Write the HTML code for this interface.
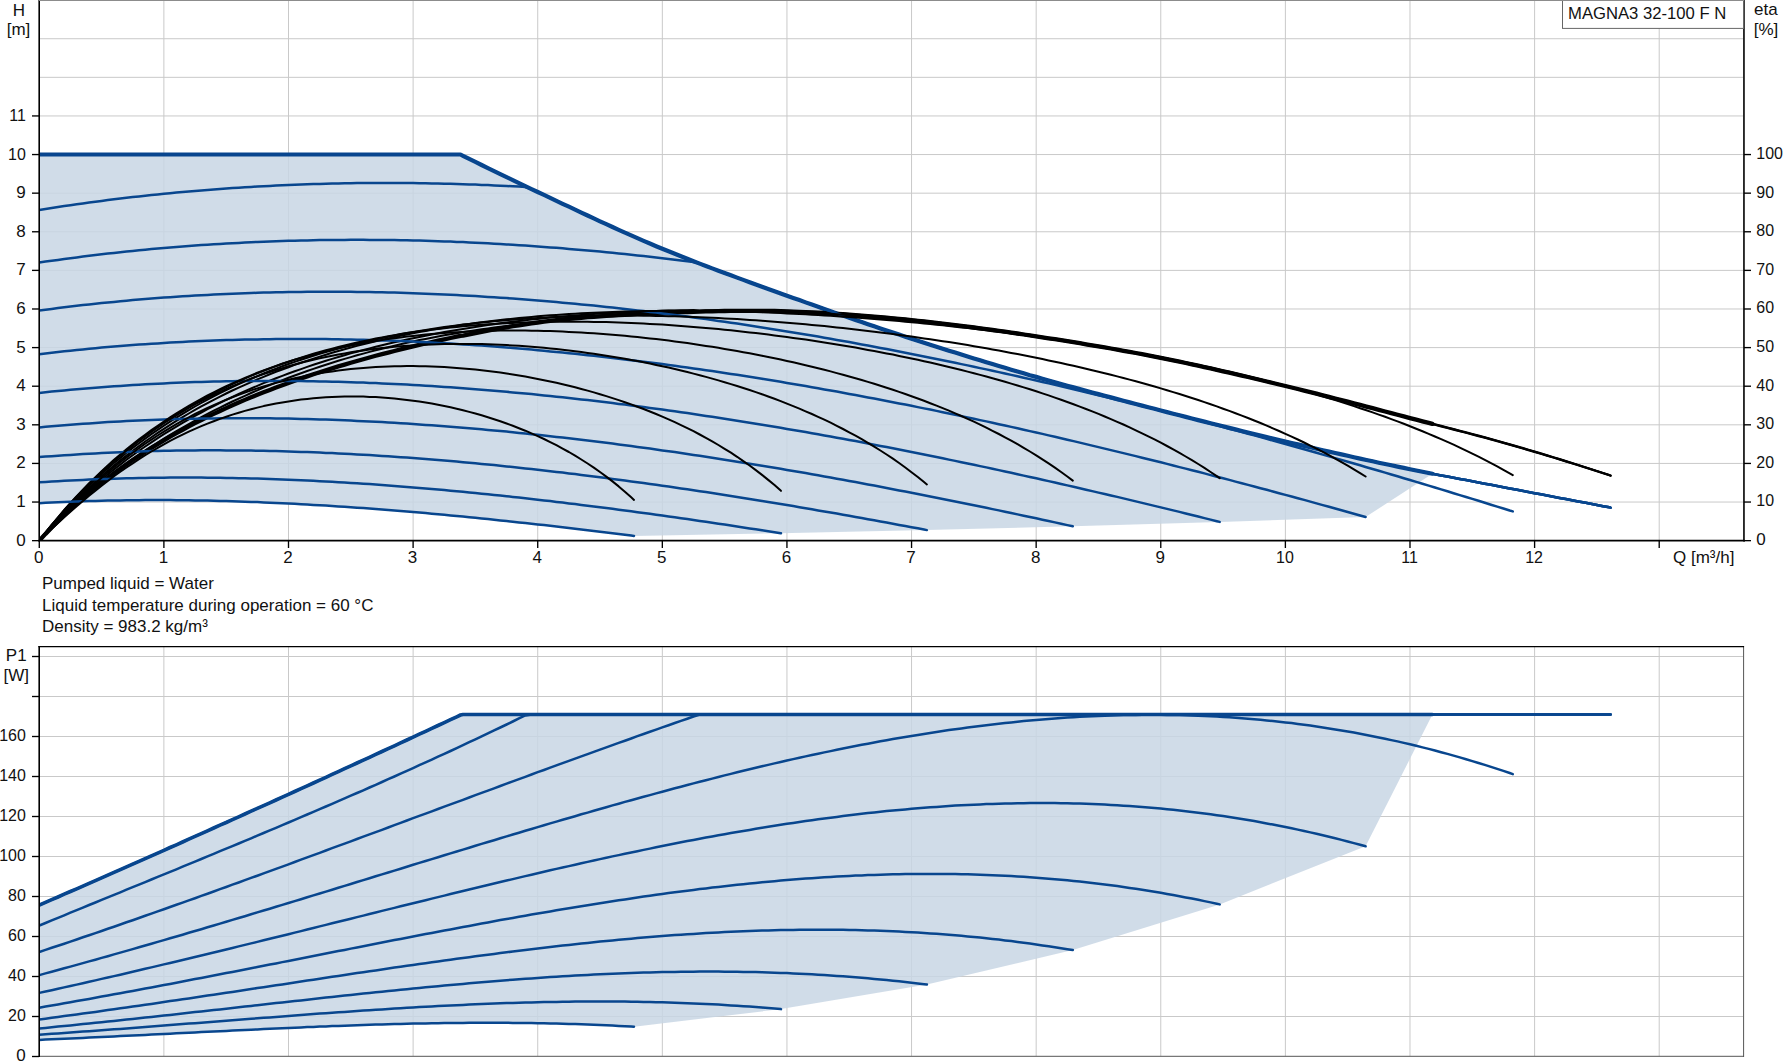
<!DOCTYPE html><html><head><meta charset="utf-8"><title>MAGNA3 32-100 F N</title>
<style>html,body{margin:0;padding:0;background:#fff}body{width:1783px;height:1061px;overflow:hidden;font-family:"Liberation Sans",sans-serif}svg{display:block}text{font-family:"Liberation Sans",sans-serif;font-size:17px;fill:#111}</style></head><body>
<svg width="1783" height="1061" viewBox="0 0 1783 1061">
<rect width="1783" height="1061" fill="#fff"/>
<defs><clipPath id="c1"><rect x="39.2" y="0" width="1706" height="541"/></clipPath><clipPath id="c2"><rect x="39.2" y="646" width="1706" height="415"/></clipPath></defs>
<g stroke="#c9c9c9" stroke-width="1" fill="none">
<line x1="163.89" y1="0" x2="163.89" y2="540"/>
<line x1="288.50" y1="0" x2="288.50" y2="540"/>
<line x1="413.11" y1="0" x2="413.11" y2="540"/>
<line x1="537.72" y1="0" x2="537.72" y2="540"/>
<line x1="662.33" y1="0" x2="662.33" y2="540"/>
<line x1="786.94" y1="0" x2="786.94" y2="540"/>
<line x1="911.55" y1="0" x2="911.55" y2="540"/>
<line x1="1036.16" y1="0" x2="1036.16" y2="540"/>
<line x1="1160.77" y1="0" x2="1160.77" y2="540"/>
<line x1="1285.38" y1="0" x2="1285.38" y2="540"/>
<line x1="1409.99" y1="0" x2="1409.99" y2="540"/>
<line x1="1534.60" y1="0" x2="1534.60" y2="540"/>
<line x1="1659.21" y1="0" x2="1659.21" y2="540"/>
<line x1="40" y1="502.04" x2="1743" y2="502.04"/>
<line x1="40" y1="463.43" x2="1743" y2="463.43"/>
<line x1="40" y1="424.82" x2="1743" y2="424.82"/>
<line x1="40" y1="386.21" x2="1743" y2="386.21"/>
<line x1="40" y1="347.60" x2="1743" y2="347.60"/>
<line x1="40" y1="308.99" x2="1743" y2="308.99"/>
<line x1="40" y1="270.38" x2="1743" y2="270.38"/>
<line x1="40" y1="231.77" x2="1743" y2="231.77"/>
<line x1="40" y1="193.16" x2="1743" y2="193.16"/>
<line x1="40" y1="154.55" x2="1743" y2="154.55"/>
<line x1="40" y1="115.94" x2="1743" y2="115.94"/>
<line x1="40" y1="77.33" x2="1743" y2="77.33"/>
<line x1="40" y1="38.72" x2="1743" y2="38.72"/>
</g>
<path d="M39.3,503.2 L45.5,502.8 L51.7,502.5 L58.0,502.2 L64.2,502.0 L70.4,501.7 L76.7,501.5 L82.9,501.3 L89.1,501.1 L95.4,500.9 L101.6,500.7 L107.8,500.6 L114.0,500.5 L120.3,500.4 L126.5,500.3 L132.7,500.2 L139.0,500.2 L145.2,500.1 L151.4,500.1 L157.7,500.1 L163.9,500.1 L170.1,500.1 L176.4,500.2 L182.6,500.2 L188.8,500.3 L195.0,500.4 L201.3,500.5 L207.5,500.6 L213.7,500.8 L220.0,500.9 L226.2,501.1 L232.4,501.3 L238.7,501.5 L244.9,501.7 L251.1,501.9 L257.3,502.1 L263.6,502.4 L269.8,502.7 L276.0,502.9 L282.3,503.2 L288.5,503.5 L294.7,503.8 L301.0,504.2 L307.2,504.5 L313.4,504.9 L319.7,505.2 L325.9,505.6 L332.1,506.0 L338.3,506.4 L344.6,506.8 L350.8,507.2 L357.0,507.7 L363.3,508.1 L369.5,508.6 L375.7,509.0 L382.0,509.5 L388.2,510.0 L394.4,510.5 L400.6,511.0 L406.9,511.5 L413.1,512.0 L419.3,512.6 L425.6,513.1 L431.8,513.7 L438.0,514.2 L444.3,514.8 L450.5,515.4 L456.7,516.0 L463.0,516.6 L469.2,517.2 L475.4,517.8 L481.6,518.4 L487.9,519.1 L494.1,519.7 L500.3,520.4 L506.6,521.0 L512.8,521.7 L519.0,522.4 L525.3,523.0 L531.5,523.7 L537.7,524.4 L544.0,525.1 L550.2,525.8 L556.4,526.5 L562.6,527.2 L568.9,528.0 L575.1,528.7 L581.3,529.4 L587.6,530.2 L593.8,530.9 L600.0,531.7 L606.3,532.4 L612.5,533.2 L618.7,534.0 L624.9,534.8 L631.2,535.5 L634.0,535.9 L781.0,533.2 L926.9,530.1 L1072.8,526.3 L1219.7,521.9 L1365.6,517.0 L1432.4,473.7 L1428.7,473.0 L1422.5,471.7 L1416.2,470.5 L1410.0,469.2 L1403.8,467.9 L1397.5,466.6 L1391.3,465.3 L1385.1,464.0 L1378.8,462.7 L1372.6,461.3 L1366.4,460.0 L1360.1,458.6 L1353.9,457.2 L1347.7,455.8 L1341.5,454.4 L1335.2,453.0 L1329.0,451.6 L1322.8,450.2 L1316.5,448.7 L1310.3,447.3 L1304.1,445.9 L1297.8,444.4 L1291.6,443.0 L1285.4,441.5 L1279.1,440.0 L1272.9,438.5 L1266.7,437.1 L1260.5,435.6 L1254.2,434.0 L1248.0,432.5 L1241.8,431.0 L1235.5,429.4 L1229.3,427.9 L1223.1,426.3 L1216.8,424.8 L1210.6,423.2 L1204.4,421.6 L1198.2,420.1 L1191.9,418.5 L1185.7,416.9 L1179.5,415.3 L1173.2,413.7 L1167.0,412.1 L1160.8,410.5 L1154.5,408.8 L1148.3,407.2 L1142.1,405.6 L1135.8,404.0 L1129.6,402.4 L1123.4,400.7 L1117.2,399.1 L1110.9,397.4 L1104.7,395.8 L1098.5,394.1 L1092.2,392.5 L1086.0,390.8 L1079.8,389.1 L1073.5,387.4 L1067.3,385.7 L1061.1,384.0 L1054.9,382.2 L1048.6,380.5 L1042.4,378.7 L1036.2,376.9 L1029.9,375.2 L1023.7,373.3 L1017.5,371.5 L1011.2,369.7 L1005.0,367.8 L998.8,366.0 L992.5,364.1 L986.3,362.2 L980.1,360.3 L973.9,358.4 L967.6,356.5 L961.4,354.6 L955.2,352.6 L948.9,350.7 L942.7,348.7 L936.5,346.7 L930.2,344.7 L924.0,342.7 L917.8,340.7 L911.5,338.7 L905.3,336.7 L899.1,334.6 L892.9,332.6 L886.6,330.5 L880.4,328.4 L874.2,326.3 L867.9,324.2 L861.7,322.0 L855.5,319.9 L849.2,317.7 L843.0,315.6 L836.8,313.4 L830.6,311.2 L824.3,309.0 L818.1,306.8 L811.9,304.6 L805.6,302.4 L799.4,300.1 L793.2,297.9 L786.9,295.7 L780.7,293.4 L774.5,291.2 L768.2,288.9 L762.0,286.7 L755.8,284.4 L749.6,282.2 L743.3,279.9 L737.1,277.6 L730.9,275.3 L724.6,273.0 L718.4,270.7 L712.2,268.4 L705.9,266.0 L699.7,263.6 L693.5,261.2 L687.3,258.8 L681.0,256.3 L674.8,253.8 L668.6,251.3 L662.3,248.8 L656.1,246.2 L649.9,243.5 L643.6,240.9 L637.4,238.2 L631.2,235.4 L624.9,232.6 L618.7,229.8 L612.5,227.0 L606.3,224.2 L600.0,221.3 L593.8,218.4 L587.6,215.5 L581.3,212.6 L575.1,209.6 L568.9,206.7 L562.6,203.8 L556.4,200.8 L550.2,197.9 L544.0,194.9 L537.7,192.0 L531.5,189.1 L525.3,186.1 L519.0,183.1 L512.8,180.1 L506.6,177.1 L500.3,174.1 L494.1,171.1 L487.9,168.1 L481.6,165.0 L475.4,161.9 L469.2,158.9 L463.0,155.8 L460.5,154.5 L456.7,154.5 L450.5,154.5 L444.3,154.5 L438.0,154.5 L431.8,154.5 L425.6,154.5 L419.3,154.5 L413.1,154.5 L406.9,154.5 L400.6,154.5 L394.4,154.5 L388.2,154.5 L382.0,154.5 L375.7,154.5 L369.5,154.5 L363.3,154.5 L357.0,154.5 L350.8,154.5 L344.6,154.5 L338.3,154.5 L332.1,154.5 L325.9,154.5 L319.7,154.5 L313.4,154.5 L307.2,154.5 L301.0,154.5 L294.7,154.5 L288.5,154.5 L282.3,154.5 L276.0,154.5 L269.8,154.5 L263.6,154.5 L257.3,154.5 L251.1,154.5 L244.9,154.5 L238.7,154.5 L232.4,154.5 L226.2,154.5 L220.0,154.5 L213.7,154.5 L207.5,154.5 L201.3,154.5 L195.0,154.5 L188.8,154.5 L182.6,154.5 L176.4,154.5 L170.1,154.5 L163.9,154.5 L157.7,154.5 L151.4,154.5 L145.2,154.5 L139.0,154.5 L132.7,154.5 L126.5,154.5 L120.3,154.5 L114.0,154.5 L107.8,154.5 L101.6,154.5 L95.4,154.5 L89.1,154.5 L82.9,154.5 L76.7,154.5 L70.4,154.5 L64.2,154.5 L58.0,154.5 L51.7,154.5 L45.5,154.5 L39.3,154.5Z" fill="#c8d6e4" fill-opacity="0.85" stroke="none"/>
<g clip-path="url(#c1)" fill="none" stroke-linecap="round" stroke-linejoin="round">
<path d="M39.3,154.5 L45.5,154.5 L51.7,154.5 L58.0,154.5 L64.2,154.5 L70.4,154.5 L76.7,154.5 L82.9,154.5 L89.1,154.5 L95.4,154.5 L101.6,154.5 L107.8,154.5 L114.0,154.5 L120.3,154.5 L126.5,154.5 L132.7,154.5 L139.0,154.5 L145.2,154.5 L151.4,154.5 L157.7,154.5 L163.9,154.5 L170.1,154.5 L176.4,154.5 L182.6,154.5 L188.8,154.5 L195.0,154.5 L201.3,154.5 L207.5,154.5 L213.7,154.5 L220.0,154.5 L226.2,154.5 L232.4,154.5 L238.7,154.5 L244.9,154.5 L251.1,154.5 L257.3,154.5 L263.6,154.5 L269.8,154.5 L276.0,154.5 L282.3,154.5 L288.5,154.5 L294.7,154.5 L301.0,154.5 L307.2,154.5 L313.4,154.5 L319.7,154.5 L325.9,154.5 L332.1,154.5 L338.3,154.5 L344.6,154.5 L350.8,154.5 L357.0,154.5 L363.3,154.5 L369.5,154.5 L375.7,154.5 L382.0,154.5 L388.2,154.5 L394.4,154.5 L400.6,154.5 L406.9,154.5 L413.1,154.5 L419.3,154.5 L425.6,154.5 L431.8,154.5 L438.0,154.5 L444.3,154.5 L450.5,154.5 L456.7,154.5 L460.5,154.5 L463.0,155.8 L469.2,158.9 L475.4,161.9 L481.6,165.0 L487.9,168.1 L494.1,171.1 L500.3,174.1 L506.6,177.1 L512.8,180.1 L519.0,183.1 L525.3,186.1 L531.5,189.1 L537.7,192.0 L544.0,194.9 L550.2,197.9 L556.4,200.8 L562.6,203.8 L568.9,206.7 L575.1,209.6 L581.3,212.6 L587.6,215.5 L593.8,218.4 L600.0,221.3 L606.3,224.2 L612.5,227.0 L618.7,229.8 L624.9,232.6 L631.2,235.4 L637.4,238.2 L643.6,240.9 L649.9,243.5 L656.1,246.2 L662.3,248.8 L668.6,251.3 L674.8,253.8 L681.0,256.3 L687.3,258.8 L693.5,261.2 L699.7,263.6 L705.9,266.0 L712.2,268.4 L718.4,270.7 L724.6,273.0 L730.9,275.3 L737.1,277.6 L743.3,279.9 L749.6,282.2 L755.8,284.4 L762.0,286.7 L768.2,288.9 L774.5,291.2 L780.7,293.4 L786.9,295.7 L793.2,297.9 L799.4,300.1 L805.6,302.4 L811.9,304.6 L818.1,306.8 L824.3,309.0 L830.6,311.2 L836.8,313.4 L843.0,315.6 L849.2,317.7 L855.5,319.9 L861.7,322.0 L867.9,324.2 L874.2,326.3 L880.4,328.4 L886.6,330.5 L892.9,332.6 L899.1,334.6 L905.3,336.7 L911.5,338.7 L917.8,340.7 L924.0,342.7 L930.2,344.7 L936.5,346.7 L942.7,348.7 L948.9,350.7 L955.2,352.6 L961.4,354.6 L967.6,356.5 L973.9,358.4 L980.1,360.3 L986.3,362.2 L992.5,364.1 L998.8,366.0 L1005.0,367.8 L1011.2,369.7 L1017.5,371.5 L1023.7,373.3 L1029.9,375.2 L1036.2,376.9 L1042.4,378.7 L1048.6,380.5 L1054.9,382.2 L1061.1,384.0 L1067.3,385.7 L1073.5,387.4 L1079.8,389.1 L1086.0,390.8 L1092.2,392.5 L1098.5,394.1 L1104.7,395.8 L1110.9,397.4 L1117.2,399.1 L1123.4,400.7 L1129.6,402.4 L1135.8,404.0 L1142.1,405.6 L1148.3,407.2 L1154.5,408.8 L1160.8,410.5 L1167.0,412.1 L1173.2,413.7 L1179.5,415.3 L1185.7,416.9 L1191.9,418.5 L1198.2,420.1 L1204.4,421.6 L1210.6,423.2 L1216.8,424.8 L1223.1,426.3 L1229.3,427.9 L1235.5,429.4 L1241.8,431.0 L1248.0,432.5 L1254.2,434.0 L1260.5,435.6 L1266.7,437.1 L1272.9,438.5 L1279.1,440.0 L1285.4,441.5 L1291.6,443.0 L1297.8,444.4 L1304.1,445.9 L1310.3,447.3 L1316.5,448.7 L1322.8,450.2 L1329.0,451.6 L1335.2,453.0 L1341.5,454.4 L1347.7,455.8 L1353.9,457.2 L1360.1,458.6 L1366.4,460.0 L1372.6,461.3 L1378.8,462.7 L1385.1,464.0 L1391.3,465.3 L1397.5,466.6 L1403.8,467.9 L1410.0,469.2 L1416.2,470.5 L1422.5,471.7 L1428.7,473.0 L1432.4,473.7" stroke="#08468e" stroke-width="4.2"/>
<path d="M39.3,540.6 L45.5,533.9 L51.7,527.5 L58.0,521.2 L64.2,515.2 L70.4,509.3 L76.7,503.7 L82.9,498.2 L89.1,492.9 L95.4,487.7 L101.6,482.8 L107.8,477.9 L114.0,473.3 L120.3,468.7 L126.5,464.3 L132.7,460.0 L139.0,455.9 L145.2,451.8 L151.4,447.9 L157.7,444.1 L163.9,440.4 L170.1,436.7 L176.4,433.2 L182.6,429.8 L188.8,426.4 L195.0,423.2 L201.3,420.0 L207.5,416.9 L213.7,413.9 L220.0,411.0 L226.2,408.1 L232.4,405.3 L238.7,402.6 L244.9,399.9 L251.1,397.3 L257.3,394.8 L263.6,392.3 L269.8,389.9 L276.0,387.5 L282.3,385.2 L288.5,382.9 L294.7,380.7 L301.0,378.5 L307.2,376.4 L313.4,374.3 L319.7,372.3 L325.9,370.3 L332.1,368.4 L338.3,366.4 L344.6,364.6 L350.8,362.8 L357.0,361.0 L363.3,359.2 L369.5,357.5 L375.7,355.8 L382.0,354.2 L388.2,352.6 L394.4,351.0 L400.6,349.4 L406.9,347.9 L413.1,346.4 L419.3,344.9 L425.6,343.5 L431.8,342.1 L438.0,340.7 L444.3,339.3 L450.5,338.0 L456.7,336.7 L460.5,335.9 L463.0,335.7 L469.2,334.4 L475.4,333.1 L481.6,331.8 L487.9,330.6 L494.1,329.5 L500.3,328.3 L506.6,327.3 L512.8,326.2 L519.0,325.3 L525.3,324.3 L531.5,323.4 L537.7,322.5 L544.0,321.7 L550.2,320.9 L556.4,320.2 L562.6,319.5 L568.9,318.9 L575.1,318.3 L581.3,317.8 L587.6,317.2 L593.8,316.8 L600.0,316.3 L606.3,315.9 L612.5,315.5 L618.7,315.1 L624.9,314.8 L631.2,314.5 L637.4,314.1 L643.6,313.8 L649.9,313.5 L656.1,313.3 L662.3,313.0 L668.6,312.7 L674.8,312.5 L681.0,312.2 L687.3,312.0 L693.5,311.8 L699.7,311.6 L705.9,311.4 L712.2,311.3 L718.4,311.1 L724.6,311.0 L730.9,310.9 L737.1,310.9 L743.3,310.8 L749.6,310.8 L755.8,310.8 L762.0,310.9 L768.2,310.9 L774.5,311.0 L780.7,311.2 L786.9,311.3 L793.2,311.6 L799.4,311.8 L805.6,312.1 L811.9,312.3 L818.1,312.7 L824.3,313.0 L830.6,313.4 L836.8,313.8 L843.0,314.2 L849.2,314.6 L855.5,315.1 L861.7,315.6 L867.9,316.1 L874.2,316.6 L880.4,317.2 L886.6,317.7 L892.9,318.3 L899.1,318.9 L905.3,319.5 L911.5,320.1 L917.8,320.8 L924.0,321.5 L930.2,322.1 L936.5,322.8 L942.7,323.6 L948.9,324.3 L955.2,325.1 L961.4,325.8 L967.6,326.6 L973.9,327.5 L980.1,328.3 L986.3,329.1 L992.5,330.0 L998.8,330.8 L1005.0,331.7 L1011.2,332.6 L1017.5,333.5 L1023.7,334.5 L1029.9,335.4 L1036.2,336.3 L1042.4,337.3 L1048.6,338.3 L1054.9,339.2 L1061.1,340.2 L1067.3,341.2 L1073.5,342.2 L1079.8,343.2 L1086.0,344.3 L1092.2,345.3 L1098.5,346.4 L1104.7,347.4 L1110.9,348.5 L1117.2,349.6 L1123.4,350.8 L1129.6,351.9 L1135.8,353.0 L1142.1,354.2 L1148.3,355.4 L1154.5,356.6 L1160.8,357.9 L1167.0,359.1 L1173.2,360.4 L1179.5,361.7 L1185.7,363.0 L1191.9,364.3 L1198.2,365.7 L1204.4,367.1 L1210.6,368.4 L1216.8,369.8 L1223.1,371.3 L1229.3,372.7 L1235.5,374.1 L1241.8,375.6 L1248.0,377.0 L1254.2,378.5 L1260.5,380.0 L1266.7,381.5 L1272.9,383.0 L1279.1,384.5 L1285.4,386.0 L1291.6,387.5 L1297.8,389.0 L1304.1,390.6 L1310.3,392.1 L1316.5,393.7 L1322.8,395.3 L1329.0,396.9 L1335.2,398.5 L1341.5,400.1 L1347.7,401.7 L1353.9,403.3 L1360.1,404.9 L1366.4,406.6 L1372.6,408.2 L1378.8,409.9 L1385.1,411.5 L1391.3,413.1 L1397.5,414.8 L1403.8,416.4 L1410.0,418.1 L1416.2,419.7 L1422.5,421.3 L1428.7,422.9 L1432.4,423.9" stroke="#000" stroke-width="4.3"/>
<path d="M39.3,154.5 L45.5,154.5 L51.7,154.5 L58.0,154.5 L64.2,154.5 L70.4,154.5 L76.7,154.5 L82.9,154.5 L89.1,154.5 L95.4,154.5 L101.6,154.5 L107.8,154.5 L114.0,154.5 L120.3,154.5 L126.5,154.5 L132.7,154.5 L139.0,154.5 L145.2,154.5 L151.4,154.5 L157.7,154.5 L163.9,154.5 L170.1,154.5 L176.4,154.5 L182.6,154.5 L188.8,154.5 L195.0,154.5 L201.3,154.5 L207.5,154.5 L213.7,154.5 L220.0,154.5 L226.2,154.5 L232.4,154.5 L238.7,154.5 L244.9,154.5 L251.1,154.5 L257.3,154.5 L263.6,154.5 L269.8,154.5 L276.0,154.5 L282.3,154.5 L288.5,154.5 L294.7,154.5 L301.0,154.5 L307.2,154.5 L313.4,154.5 L319.7,154.5 L325.9,154.5 L332.1,154.5 L338.3,154.5 L344.6,154.5 L350.8,154.5 L357.0,154.5 L363.3,154.5 L369.5,154.5 L375.7,154.5 L382.0,154.5 L388.2,154.5 L394.4,154.5 L400.6,154.5 L406.9,154.5 L413.1,154.5 L419.3,154.5 L425.6,154.5 L431.8,154.5 L438.0,154.5 L444.3,154.5 L450.5,154.5 L456.7,154.5 L460.5,154.5 L463.0,155.8 L469.2,158.9 L475.4,161.9 L481.6,165.0 L487.9,168.1 L494.1,171.1 L500.3,174.1 L506.6,177.1 L512.8,180.1 L519.0,183.1 L525.3,186.1 L531.5,189.1 L537.7,192.0 L544.0,194.9 L550.2,197.9 L556.4,200.8 L562.6,203.8 L568.9,206.7 L575.1,209.6 L581.3,212.6 L587.6,215.5 L593.8,218.4 L600.0,221.3 L606.3,224.2 L612.5,227.0 L618.7,229.8 L624.9,232.6 L631.2,235.4 L637.4,238.2 L643.6,240.9 L649.9,243.5 L656.1,246.2 L662.3,248.8 L668.6,251.3 L674.8,253.8 L681.0,256.3 L687.3,258.8 L693.5,261.2 L699.7,263.6 L705.9,266.0 L712.2,268.4 L718.4,270.7 L724.6,273.0 L730.9,275.3 L737.1,277.6 L743.3,279.9 L749.6,282.2 L755.8,284.4 L762.0,286.7 L768.2,288.9 L774.5,291.2 L780.7,293.4 L786.9,295.7 L793.2,297.9 L799.4,300.1 L805.6,302.4 L811.9,304.6 L818.1,306.8 L824.3,309.0 L830.6,311.2 L836.8,313.4 L843.0,315.6 L849.2,317.7 L855.5,319.9 L861.7,322.0 L867.9,324.2 L874.2,326.3 L880.4,328.4 L886.6,330.5 L892.9,332.6 L899.1,334.6 L905.3,336.7 L911.5,338.7 L917.8,340.7 L924.0,342.7 L930.2,344.7 L936.5,346.7 L942.7,348.7 L948.9,350.7 L955.2,352.6 L961.4,354.6 L967.6,356.5 L973.9,358.4 L980.1,360.3 L986.3,362.2 L992.5,364.1 L998.8,366.0 L1005.0,367.8 L1011.2,369.7 L1017.5,371.5 L1023.7,373.3 L1029.9,375.2 L1036.2,376.9 L1042.4,378.7 L1048.6,380.5 L1054.9,382.2 L1061.1,384.0 L1067.3,385.7 L1073.5,387.4 L1079.8,389.1 L1086.0,390.8 L1092.2,392.5 L1098.5,394.1 L1104.7,395.8 L1110.9,397.4 L1117.2,399.1 L1123.4,400.7 L1129.6,402.4 L1135.8,404.0 L1142.1,405.6 L1148.3,407.2 L1154.5,408.8 L1160.8,410.5 L1167.0,412.1 L1173.2,413.7 L1179.5,415.3 L1185.7,416.9 L1191.9,418.5 L1198.2,420.1 L1204.4,421.6 L1210.6,423.2 L1216.8,424.8 L1223.1,426.3 L1229.3,427.9 L1235.5,429.4 L1241.8,431.0 L1248.0,432.5 L1254.2,434.0 L1260.5,435.6 L1266.7,437.1 L1272.9,438.5 L1279.1,440.0 L1285.4,441.5 L1291.6,443.0 L1297.8,444.4 L1304.1,445.9 L1310.3,447.3 L1316.5,448.7 L1322.8,450.2 L1329.0,451.6 L1335.2,453.0 L1341.5,454.4 L1347.7,455.8 L1353.9,457.2 L1360.1,458.6 L1366.4,460.0 L1372.6,461.3 L1378.8,462.7 L1385.1,464.0 L1391.3,465.3 L1397.5,466.6 L1403.8,467.9 L1410.0,469.2 L1416.2,470.5 L1422.5,471.7 L1428.7,473.0 L1432.4,473.7 L1434.9,474.2 L1441.1,475.4 L1447.4,476.6 L1453.6,477.8 L1459.8,479.0 L1466.1,480.1 L1472.3,481.3 L1478.5,482.5 L1484.8,483.7 L1491.0,484.8 L1497.2,486.0 L1503.4,487.2 L1509.7,488.4 L1515.9,489.6 L1522.1,490.8 L1528.4,492.0 L1534.6,493.2 L1540.8,494.3 L1547.1,495.5 L1553.3,496.7 L1559.5,497.9 L1565.8,499.1 L1572.0,500.3 L1578.2,501.4 L1584.4,502.6 L1590.7,503.8 L1596.9,505.0 L1603.1,506.2 L1609.4,507.3 L1610.6,507.6" stroke="#08468e" stroke-width="2.5"/>
<path d="M39.3,540.6 L45.5,533.9 L51.7,527.5 L58.0,521.2 L64.2,515.2 L70.4,509.3 L76.7,503.7 L82.9,498.2 L89.1,492.9 L95.4,487.7 L101.6,482.8 L107.8,477.9 L114.0,473.3 L120.3,468.7 L126.5,464.3 L132.7,460.0 L139.0,455.9 L145.2,451.8 L151.4,447.9 L157.7,444.1 L163.9,440.4 L170.1,436.7 L176.4,433.2 L182.6,429.8 L188.8,426.4 L195.0,423.2 L201.3,420.0 L207.5,416.9 L213.7,413.9 L220.0,411.0 L226.2,408.1 L232.4,405.3 L238.7,402.6 L244.9,399.9 L251.1,397.3 L257.3,394.8 L263.6,392.3 L269.8,389.9 L276.0,387.5 L282.3,385.2 L288.5,382.9 L294.7,380.7 L301.0,378.5 L307.2,376.4 L313.4,374.3 L319.7,372.3 L325.9,370.3 L332.1,368.4 L338.3,366.4 L344.6,364.6 L350.8,362.8 L357.0,361.0 L363.3,359.2 L369.5,357.5 L375.7,355.8 L382.0,354.2 L388.2,352.6 L394.4,351.0 L400.6,349.4 L406.9,347.9 L413.1,346.4 L419.3,344.9 L425.6,343.5 L431.8,342.1 L438.0,340.7 L444.3,339.3 L450.5,338.0 L456.7,336.7 L460.5,335.9 L463.0,335.7 L469.2,334.4 L475.4,333.1 L481.6,331.8 L487.9,330.6 L494.1,329.5 L500.3,328.3 L506.6,327.3 L512.8,326.2 L519.0,325.3 L525.3,324.3 L531.5,323.4 L537.7,322.5 L544.0,321.7 L550.2,320.9 L556.4,320.2 L562.6,319.5 L568.9,318.9 L575.1,318.3 L581.3,317.8 L587.6,317.2 L593.8,316.8 L600.0,316.3 L606.3,315.9 L612.5,315.5 L618.7,315.1 L624.9,314.8 L631.2,314.5 L637.4,314.1 L643.6,313.8 L649.9,313.5 L656.1,313.3 L662.3,313.0 L668.6,312.7 L674.8,312.5 L681.0,312.2 L687.3,312.0 L693.5,311.8 L699.7,311.6 L705.9,311.4 L712.2,311.3 L718.4,311.1 L724.6,311.0 L730.9,310.9 L737.1,310.9 L743.3,310.8 L749.6,310.8 L755.8,310.8 L762.0,310.9 L768.2,310.9 L774.5,311.0 L780.7,311.2 L786.9,311.3 L793.2,311.6 L799.4,311.8 L805.6,312.1 L811.9,312.3 L818.1,312.7 L824.3,313.0 L830.6,313.4 L836.8,313.8 L843.0,314.2 L849.2,314.6 L855.5,315.1 L861.7,315.6 L867.9,316.1 L874.2,316.6 L880.4,317.2 L886.6,317.7 L892.9,318.3 L899.1,318.9 L905.3,319.5 L911.5,320.1 L917.8,320.8 L924.0,321.5 L930.2,322.1 L936.5,322.8 L942.7,323.6 L948.9,324.3 L955.2,325.1 L961.4,325.8 L967.6,326.6 L973.9,327.5 L980.1,328.3 L986.3,329.1 L992.5,330.0 L998.8,330.8 L1005.0,331.7 L1011.2,332.6 L1017.5,333.5 L1023.7,334.5 L1029.9,335.4 L1036.2,336.3 L1042.4,337.3 L1048.6,338.3 L1054.9,339.2 L1061.1,340.2 L1067.3,341.2 L1073.5,342.2 L1079.8,343.2 L1086.0,344.3 L1092.2,345.3 L1098.5,346.4 L1104.7,347.4 L1110.9,348.5 L1117.2,349.6 L1123.4,350.8 L1129.6,351.9 L1135.8,353.0 L1142.1,354.2 L1148.3,355.4 L1154.5,356.6 L1160.8,357.9 L1167.0,359.1 L1173.2,360.4 L1179.5,361.7 L1185.7,363.0 L1191.9,364.3 L1198.2,365.7 L1204.4,367.1 L1210.6,368.4 L1216.8,369.8 L1223.1,371.3 L1229.3,372.7 L1235.5,374.1 L1241.8,375.6 L1248.0,377.0 L1254.2,378.5 L1260.5,380.0 L1266.7,381.5 L1272.9,383.0 L1279.1,384.5 L1285.4,386.0 L1291.6,387.5 L1297.8,389.0 L1304.1,390.6 L1310.3,392.1 L1316.5,393.7 L1322.8,395.3 L1329.0,396.9 L1335.2,398.5 L1341.5,400.1 L1347.7,401.7 L1353.9,403.3 L1360.1,404.9 L1366.4,406.6 L1372.6,408.2 L1378.8,409.9 L1385.1,411.5 L1391.3,413.1 L1397.5,414.8 L1403.8,416.4 L1410.0,418.1 L1416.2,419.7 L1422.5,421.3 L1428.7,422.9 L1432.4,423.9 L1434.9,424.5 L1441.1,426.1 L1447.4,427.7 L1453.6,429.3 L1459.8,431.0 L1466.1,432.6 L1472.3,434.2 L1478.5,435.9 L1484.8,437.5 L1491.0,439.2 L1497.2,440.9 L1503.4,442.7 L1509.7,444.5 L1515.9,446.3 L1522.1,448.1 L1528.4,449.9 L1534.6,451.7 L1540.8,453.6 L1547.1,455.5 L1553.3,457.4 L1559.5,459.3 L1565.8,461.2 L1572.0,463.2 L1578.2,465.1 L1584.4,467.1 L1590.7,469.1 L1596.9,471.1 L1603.1,473.1 L1609.4,475.1 L1610.6,475.6" stroke="#000" stroke-width="2.0"/>
<path d="M39.3,209.9 L45.5,209.0 L51.7,208.0 L58.0,207.0 L64.2,206.1 L70.4,205.2 L76.7,204.3 L82.9,203.4 L89.1,202.6 L95.4,201.7 L101.6,200.9 L107.8,200.1 L114.0,199.3 L120.3,198.6 L126.5,197.8 L132.7,197.1 L139.0,196.4 L145.2,195.7 L151.4,195.1 L157.7,194.4 L163.9,193.8 L170.1,193.2 L176.4,192.6 L182.6,192.0 L188.8,191.4 L195.0,190.9 L201.3,190.4 L207.5,189.9 L213.7,189.4 L220.0,188.9 L226.2,188.5 L232.4,188.1 L238.7,187.7 L244.9,187.3 L251.1,186.9 L257.3,186.5 L263.6,186.2 L269.8,185.9 L276.0,185.6 L282.3,185.3 L288.5,185.0 L294.7,184.7 L301.0,184.5 L307.2,184.3 L313.4,184.1 L319.7,183.9 L325.9,183.7 L332.1,183.6 L338.3,183.4 L344.6,183.3 L350.8,183.2 L357.0,183.1 L363.3,183.1 L369.5,183.0 L375.7,183.0 L382.0,183.0 L388.2,183.0 L394.4,183.0 L400.6,183.0 L406.9,183.1 L413.1,183.1 L419.3,183.2 L425.6,183.3 L431.8,183.4 L438.0,183.5 L444.3,183.7 L450.5,183.8 L456.7,184.0 L463.0,184.2 L469.2,184.4 L475.4,184.6 L481.6,184.9 L487.9,185.1 L494.1,185.4 L500.3,185.7 L506.6,186.0 L512.8,186.3 L519.0,186.6 L525.3,187.0 L531.5,189.1 L537.7,192.0 L544.0,194.9 L550.2,197.9 L556.4,200.8 L562.6,203.8 L568.9,206.7 L575.1,209.6 L581.3,212.6 L587.6,215.5 L593.8,218.4 L600.0,221.3 L606.3,224.2 L612.5,227.0 L618.7,229.8 L624.9,232.6 L631.2,235.4 L637.4,238.2 L643.6,240.9 L649.9,243.5 L656.1,246.2 L662.3,248.8 L668.6,251.3 L674.8,253.8 L681.0,256.3 L687.3,258.8 L693.5,261.2 L699.7,263.6 L705.9,266.0 L712.2,268.4 L718.4,270.7 L724.6,273.0 L730.9,275.3 L737.1,277.6 L743.3,279.9 L749.6,282.2 L755.8,284.4 L762.0,286.7 L768.2,288.9 L774.5,291.2 L780.7,293.4 L786.9,295.7 L793.2,297.9 L799.4,300.1 L805.6,302.4 L811.9,304.6 L818.1,306.8 L824.3,309.0 L830.6,311.2 L836.8,313.4 L843.0,315.6 L849.2,317.7 L855.5,319.9 L861.7,322.0 L867.9,324.2 L874.2,326.3 L880.4,328.4 L886.6,330.5 L892.9,332.6 L899.1,334.6 L905.3,336.7 L911.5,338.7 L917.8,340.7 L924.0,342.7 L930.2,344.7 L936.5,346.7 L942.7,348.7 L948.9,350.7 L955.2,352.6 L961.4,354.6 L967.6,356.5 L973.9,358.4 L980.1,360.3 L986.3,362.2 L992.5,364.1 L998.8,366.0 L1005.0,367.8 L1011.2,369.7 L1017.5,371.5 L1023.7,373.3 L1029.9,375.2 L1036.2,376.9 L1042.4,378.7 L1048.6,380.5 L1054.9,382.2 L1061.1,384.0 L1067.3,385.7 L1073.5,387.4 L1079.8,389.1 L1086.0,390.8 L1092.2,392.5 L1098.5,394.1 L1104.7,395.8 L1110.9,397.4 L1117.2,399.1 L1123.4,400.7 L1129.6,402.4 L1135.8,404.0 L1142.1,405.6 L1148.3,407.2 L1154.5,408.8 L1160.8,410.5 L1167.0,412.1 L1173.2,413.7 L1179.5,415.3 L1185.7,416.9 L1191.9,418.5 L1198.2,420.1 L1204.4,421.6 L1210.6,423.2 L1216.8,424.8 L1223.1,426.3 L1229.3,427.9 L1235.5,429.4 L1241.8,431.0 L1248.0,432.5 L1254.2,434.0 L1260.5,435.6 L1266.7,437.1 L1272.9,438.5 L1279.1,440.0 L1285.4,441.5 L1291.6,443.0 L1297.8,444.4 L1304.1,445.9 L1310.3,447.3 L1316.5,448.7 L1322.8,450.2 L1329.0,451.6 L1335.2,453.0 L1341.5,454.4 L1347.7,455.8 L1353.9,457.2 L1360.1,458.6 L1366.4,460.0 L1372.6,461.3 L1378.8,462.7 L1385.1,464.0 L1391.3,465.3 L1397.5,466.6 L1403.8,467.9 L1410.0,469.2 L1416.2,470.5 L1422.5,471.7 L1428.7,473.0 L1434.9,474.2 L1441.1,475.4 L1447.4,476.6 L1453.6,477.8 L1459.8,479.0 L1466.1,480.1 L1472.3,481.3 L1478.5,482.5 L1484.8,483.7 L1491.0,484.8 L1497.2,486.0 L1503.4,487.2 L1509.7,488.4 L1515.9,489.6 L1522.1,490.8 L1528.4,492.0 L1534.6,493.2 L1540.8,494.3 L1547.1,495.5 L1553.3,496.7 L1559.5,497.9 L1565.8,499.1 L1572.0,500.3 L1578.2,501.4 L1584.4,502.6 L1590.7,503.8 L1596.9,505.0 L1603.1,506.2 L1609.4,507.3 L1610.6,507.6" stroke="#08468e" stroke-width="2.5"/>
<path d="M39.3,540.6 L45.5,534.0 L51.7,527.6 L58.0,521.3 L64.2,515.3 L70.4,509.4 L76.7,503.7 L82.9,498.2 L89.1,492.8 L95.4,487.6 L101.6,482.5 L107.8,477.6 L114.0,472.8 L120.3,468.1 L126.5,463.6 L132.7,459.1 L139.0,454.8 L145.2,450.6 L151.4,446.5 L157.7,442.5 L163.9,438.6 L170.1,434.8 L176.4,431.1 L182.6,427.5 L188.8,424.0 L195.0,420.5 L201.3,417.2 L207.5,413.9 L213.7,410.7 L220.0,407.6 L226.2,404.5 L232.4,401.5 L238.7,398.6 L244.9,395.8 L251.1,393.0 L257.3,390.3 L263.6,387.7 L269.8,385.1 L276.0,382.6 L282.3,380.2 L288.5,377.8 L294.7,375.5 L301.0,373.2 L307.2,371.0 L313.4,368.9 L319.7,366.8 L325.9,364.7 L332.1,362.8 L338.3,360.8 L344.6,358.9 L350.8,357.1 L357.0,355.3 L363.3,353.6 L369.5,351.9 L375.7,350.3 L382.0,348.7 L388.2,347.2 L394.4,345.7 L400.6,344.2 L406.9,342.8 L413.1,341.5 L419.3,340.1 L425.6,338.9 L431.8,337.7 L438.0,336.5 L444.3,335.3 L450.5,334.2 L456.7,333.2 L463.0,332.1 L469.2,331.2 L475.4,330.2 L481.6,329.3 L487.9,328.4 L494.1,327.6 L500.3,326.8 L506.6,326.1 L512.8,325.4 L519.0,324.7 L525.3,324.0 L531.5,323.1 L537.7,322.2 L544.0,321.4 L550.2,320.5 L556.4,319.8 L562.6,319.1 L568.9,318.4 L575.1,317.8 L581.3,317.2 L587.6,316.6 L593.8,316.1 L600.0,315.6 L606.3,315.2 L612.5,314.8 L618.7,314.4 L624.9,314.0 L631.2,313.7 L637.4,313.4 L643.6,313.1 L649.9,312.8 L656.1,312.5 L662.3,312.2 L668.6,312.0 L674.8,311.7 L681.0,311.5 L687.3,311.3 L693.5,311.1 L699.7,310.9 L705.9,310.7 L712.2,310.6 L718.4,310.4 L724.6,310.3 L730.9,310.2 L737.1,310.2 L743.3,310.1 L749.6,310.1 L755.8,310.1 L762.0,310.2 L768.2,310.2 L774.5,310.3 L780.7,310.5 L786.9,310.7 L793.2,310.9 L799.4,311.1 L805.6,311.4 L811.9,311.7 L818.1,312.0 L824.3,312.3 L830.6,312.7 L836.8,313.1 L843.0,313.5 L849.2,313.9 L855.5,314.4 L861.7,314.9 L867.9,315.4 L874.2,315.9 L880.4,316.5 L886.6,317.0 L892.9,317.6 L899.1,318.2 L905.3,318.8 L911.5,319.5 L917.8,320.1 L924.0,320.8 L930.2,321.5 L936.5,322.2 L942.7,322.9 L948.9,323.7 L955.2,324.4 L961.4,325.2 L967.6,326.0 L973.9,326.8 L980.1,327.6 L986.3,328.5 L992.5,329.3 L998.8,330.2 L1005.0,331.1 L1011.2,332.0 L1017.5,332.9 L1023.7,333.8 L1029.9,334.8 L1036.2,335.7 L1042.4,336.7 L1048.6,337.7 L1054.9,338.6 L1061.1,339.6 L1067.3,340.6 L1073.5,341.6 L1079.8,342.6 L1086.0,343.7 L1092.2,344.7 L1098.5,345.8 L1104.7,346.9 L1110.9,348.0 L1117.2,349.1 L1123.4,350.2 L1129.6,351.3 L1135.8,352.5 L1142.1,353.7 L1148.3,354.9 L1154.5,356.1 L1160.8,357.3 L1167.0,358.6 L1173.2,359.9 L1179.5,361.2 L1185.7,362.5 L1191.9,363.8 L1198.2,365.2 L1204.4,366.5 L1210.6,367.9 L1216.8,369.3 L1223.1,370.7 L1229.3,372.2 L1235.5,373.6 L1241.8,375.1 L1248.0,376.5 L1254.2,378.0 L1260.5,379.5 L1266.7,381.0 L1272.9,382.5 L1279.1,384.0 L1285.4,385.5 L1291.6,387.0 L1297.8,388.6 L1304.1,390.1 L1310.3,391.7 L1316.5,393.3 L1322.8,394.8 L1329.0,396.4 L1335.2,398.0 L1341.5,399.7 L1347.7,401.3 L1353.9,402.9 L1360.1,404.5 L1366.4,406.2 L1372.6,407.8 L1378.8,409.5 L1385.1,411.1 L1391.3,412.8 L1397.5,414.4 L1403.8,416.1 L1410.0,417.7 L1416.2,419.3 L1422.5,421.0 L1428.7,422.6 L1434.9,424.2 L1441.1,425.8 L1447.4,427.4 L1453.6,429.0 L1459.8,430.6 L1466.1,432.2 L1472.3,433.9 L1478.5,435.5 L1484.8,437.2 L1491.0,438.9 L1497.2,440.6 L1503.4,442.4 L1509.7,444.2 L1515.9,446.0 L1522.1,447.8 L1528.4,449.6 L1534.6,451.5 L1540.8,453.3 L1547.1,455.2 L1553.3,457.1 L1559.5,459.0 L1565.8,461.0 L1572.0,462.9 L1578.2,464.9 L1584.4,466.9 L1590.7,468.9 L1596.9,470.9 L1603.1,472.9 L1609.4,475.0 L1610.6,475.4" stroke="#000" stroke-width="2.0"/>
<path d="M39.3,262.5 L45.5,261.6 L51.7,260.7 L58.0,259.9 L64.2,259.0 L70.4,258.2 L76.7,257.4 L82.9,256.6 L89.1,255.8 L95.4,255.0 L101.6,254.3 L107.8,253.6 L114.0,252.9 L120.3,252.2 L126.5,251.6 L132.7,250.9 L139.0,250.3 L145.2,249.7 L151.4,249.1 L157.7,248.5 L163.9,248.0 L170.1,247.5 L176.4,247.0 L182.6,246.5 L188.8,246.0 L195.0,245.5 L201.3,245.1 L207.5,244.7 L213.7,244.3 L220.0,243.9 L226.2,243.5 L232.4,243.2 L238.7,242.9 L244.9,242.5 L251.1,242.2 L257.3,242.0 L263.6,241.7 L269.8,241.5 L276.0,241.2 L282.3,241.0 L288.5,240.8 L294.7,240.7 L301.0,240.5 L307.2,240.4 L313.4,240.2 L319.7,240.1 L325.9,240.0 L332.1,240.0 L338.3,239.9 L344.6,239.9 L350.8,239.8 L357.0,239.8 L363.3,239.8 L369.5,239.9 L375.7,239.9 L382.0,240.0 L388.2,240.0 L394.4,240.1 L400.6,240.2 L406.9,240.3 L413.1,240.5 L419.3,240.6 L425.6,240.8 L431.8,241.0 L438.0,241.2 L444.3,241.4 L450.5,241.6 L456.7,241.9 L463.0,242.1 L469.2,242.4 L475.4,242.7 L481.6,243.0 L487.9,243.3 L494.1,243.7 L500.3,244.0 L506.6,244.4 L512.8,244.8 L519.0,245.2 L525.3,245.6 L531.5,246.0 L537.7,246.4 L544.0,246.9 L550.2,247.4 L556.4,247.8 L562.6,248.3 L568.9,248.9 L575.1,249.4 L581.3,249.9 L587.6,250.5 L593.8,251.0 L600.0,251.6 L606.3,252.2 L612.5,252.8 L618.7,253.5 L624.9,254.1 L631.2,254.7 L637.4,255.4 L643.6,256.1 L649.9,256.8 L656.1,257.5 L662.3,258.2 L668.6,258.9 L674.8,259.7 L681.0,260.4 L687.3,261.2 L693.5,262.0 L699.7,263.6 L705.9,266.0 L712.2,268.4 L718.4,270.7 L724.6,273.0 L730.9,275.3 L737.1,277.6 L743.3,279.9 L749.6,282.2 L755.8,284.4 L762.0,286.7 L768.2,288.9 L774.5,291.2 L780.7,293.4 L786.9,295.7 L793.2,297.9 L799.4,300.1 L805.6,302.4 L811.9,304.6 L818.1,306.8 L824.3,309.0 L830.6,311.2 L836.8,313.4 L843.0,315.6 L849.2,317.7 L855.5,319.9 L861.7,322.0 L867.9,324.2 L874.2,326.3 L880.4,328.4 L886.6,330.5 L892.9,332.6 L899.1,334.6 L905.3,336.7 L911.5,338.7 L917.8,340.7 L924.0,342.7 L930.2,344.7 L936.5,346.7 L942.7,348.7 L948.9,350.7 L955.2,352.6 L961.4,354.6 L967.6,356.5 L973.9,358.4 L980.1,360.3 L986.3,362.2 L992.5,364.1 L998.8,366.0 L1005.0,367.8 L1011.2,369.7 L1017.5,371.5 L1023.7,373.3 L1029.9,375.2 L1036.2,376.9 L1042.4,378.7 L1048.6,380.5 L1054.9,382.2 L1061.1,384.0 L1067.3,385.7 L1073.5,387.4 L1079.8,389.1 L1086.0,390.8 L1092.2,392.5 L1098.5,394.1 L1104.7,395.8 L1110.9,397.4 L1117.2,399.1 L1123.4,400.7 L1129.6,402.4 L1135.8,404.0 L1142.1,405.6 L1148.3,407.2 L1154.5,408.8 L1160.8,410.5 L1167.0,412.1 L1173.2,413.7 L1179.5,415.3 L1185.7,416.9 L1191.9,418.5 L1198.2,420.1 L1204.4,421.6 L1210.6,423.2 L1216.8,424.8 L1223.1,426.3 L1229.3,427.9 L1235.5,429.4 L1241.8,431.0 L1248.0,432.5 L1254.2,434.0 L1260.5,435.6 L1266.7,437.1 L1272.9,438.5 L1279.1,440.0 L1285.4,441.5 L1291.6,443.0 L1297.8,444.4 L1304.1,445.9 L1310.3,447.3 L1316.5,448.7 L1322.8,450.2 L1329.0,451.6 L1335.2,453.0 L1341.5,454.4 L1347.7,455.8 L1353.9,457.2 L1360.1,458.6 L1366.4,460.0 L1372.6,461.3 L1378.8,462.7 L1385.1,464.0 L1391.3,465.3 L1397.5,466.6 L1403.8,467.9 L1410.0,469.2 L1416.2,470.5 L1422.5,471.7 L1428.7,473.0 L1434.9,474.2 L1441.1,475.4 L1447.4,476.6 L1453.6,477.8 L1459.8,479.0 L1466.1,480.1 L1472.3,481.3 L1478.5,482.5 L1484.8,483.7 L1491.0,484.8 L1497.2,486.0 L1503.4,487.2 L1509.7,488.4 L1515.9,489.6 L1522.1,490.8 L1528.4,492.0 L1534.6,493.2 L1540.8,494.3 L1547.1,495.5 L1553.3,496.7 L1559.5,497.9 L1565.8,499.1 L1572.0,500.3 L1578.2,501.4 L1584.4,502.6 L1590.7,503.8 L1596.9,505.0 L1603.1,506.2 L1609.4,507.3 L1610.6,507.6" stroke="#08468e" stroke-width="2.5"/>
<path d="M39.3,540.6 L45.5,533.6 L51.7,526.9 L58.0,520.3 L64.2,513.9 L70.4,507.7 L76.7,501.8 L82.9,496.0 L89.1,490.3 L95.4,484.9 L101.6,479.6 L107.8,474.4 L114.0,469.4 L120.3,464.6 L126.5,459.8 L132.7,455.3 L139.0,450.8 L145.2,446.5 L151.4,442.3 L157.7,438.2 L163.9,434.2 L170.1,430.3 L176.4,426.6 L182.6,422.9 L188.8,419.3 L195.0,415.9 L201.3,412.5 L207.5,409.2 L213.7,406.0 L220.0,402.9 L226.2,399.8 L232.4,396.9 L238.7,394.0 L244.9,391.2 L251.1,388.5 L257.3,385.8 L263.6,383.2 L269.8,380.7 L276.0,378.3 L282.3,375.9 L288.5,373.5 L294.7,371.3 L301.0,369.1 L307.2,366.9 L313.4,364.8 L319.7,362.8 L325.9,360.8 L332.1,358.9 L338.3,357.0 L344.6,355.2 L350.8,353.4 L357.0,351.7 L363.3,350.0 L369.5,348.4 L375.7,346.8 L382.0,345.3 L388.2,343.8 L394.4,342.3 L400.6,340.9 L406.9,339.5 L413.1,338.2 L419.3,336.9 L425.6,335.7 L431.8,334.4 L438.0,333.3 L444.3,332.1 L450.5,331.0 L456.7,329.9 L463.0,328.9 L469.2,327.9 L475.4,326.9 L481.6,326.0 L487.9,325.1 L494.1,324.2 L500.3,323.3 L506.6,322.5 L512.8,321.7 L519.0,321.0 L525.3,320.3 L531.5,319.6 L537.7,318.9 L544.0,318.2 L550.2,317.6 L556.4,317.0 L562.6,316.5 L568.9,315.9 L575.1,315.4 L581.3,314.9 L587.6,314.5 L593.8,314.0 L600.0,313.6 L606.3,313.2 L612.5,312.9 L618.7,312.5 L624.9,312.2 L631.2,311.9 L637.4,311.6 L643.6,311.4 L649.9,311.2 L656.1,311.0 L662.3,310.8 L668.6,310.6 L674.8,310.5 L681.0,310.3 L687.3,310.2 L693.5,310.1 L699.7,310.7 L705.9,310.5 L712.2,310.4 L718.4,310.3 L724.6,310.2 L730.9,310.1 L737.1,310.1 L743.3,310.1 L749.6,310.2 L755.8,310.3 L762.0,310.4 L768.2,310.5 L774.5,310.7 L780.7,310.9 L786.9,311.2 L793.2,311.5 L799.4,311.8 L805.6,312.1 L811.9,312.5 L818.1,312.9 L824.3,313.3 L830.6,313.7 L836.8,314.2 L843.0,314.7 L849.2,315.2 L855.5,315.7 L861.7,316.2 L867.9,316.7 L874.2,317.3 L880.4,317.8 L886.6,318.4 L892.9,319.0 L899.1,319.6 L905.3,320.2 L911.5,320.8 L917.8,321.5 L924.0,322.1 L930.2,322.8 L936.5,323.5 L942.7,324.2 L948.9,325.0 L955.2,325.7 L961.4,326.5 L967.6,327.3 L973.9,328.1 L980.1,328.9 L986.3,329.8 L992.5,330.6 L998.8,331.5 L1005.0,332.4 L1011.2,333.3 L1017.5,334.2 L1023.7,335.1 L1029.9,336.0 L1036.2,337.0 L1042.4,337.9 L1048.6,338.9 L1054.9,339.8 L1061.1,340.8 L1067.3,341.8 L1073.5,342.8 L1079.8,343.8 L1086.0,344.9 L1092.2,345.9 L1098.5,347.0 L1104.7,348.0 L1110.9,349.1 L1117.2,350.2 L1123.4,351.3 L1129.6,352.5 L1135.8,353.6 L1142.1,354.8 L1148.3,356.0 L1154.5,357.2 L1160.8,358.4 L1167.0,359.7 L1173.2,360.9 L1179.5,362.2 L1185.7,363.5 L1191.9,364.9 L1198.2,366.2 L1204.4,367.6 L1210.6,369.0 L1216.8,370.4 L1223.1,371.8 L1229.3,373.2 L1235.5,374.6 L1241.8,376.1 L1248.0,377.5 L1254.2,379.0 L1260.5,380.5 L1266.7,381.9 L1272.9,383.4 L1279.1,384.9 L1285.4,386.4 L1291.6,388.0 L1297.8,389.5 L1304.1,391.0 L1310.3,392.6 L1316.5,394.1 L1322.8,395.7 L1329.0,397.3 L1335.2,398.9 L1341.5,400.5 L1347.7,402.1 L1353.9,403.7 L1360.1,405.4 L1366.4,407.0 L1372.6,408.6 L1378.8,410.3 L1385.1,411.9 L1391.3,413.5 L1397.5,415.2 L1403.8,416.8 L1410.0,418.4 L1416.2,420.1 L1422.5,421.7 L1428.7,423.3 L1434.9,424.9 L1441.1,426.5 L1447.4,428.1 L1453.6,429.7 L1459.8,431.3 L1466.1,432.9 L1472.3,434.5 L1478.5,436.2 L1484.8,437.8 L1491.0,439.5 L1497.2,441.2 L1503.4,443.0 L1509.7,444.8 L1515.9,446.6 L1522.1,448.4 L1528.4,450.2 L1534.6,452.0 L1540.8,453.9 L1547.1,455.7 L1553.3,457.6 L1559.5,459.5 L1565.8,461.5 L1572.0,463.4 L1578.2,465.3 L1584.4,467.3 L1590.7,469.3 L1596.9,471.3 L1603.1,473.3 L1609.4,475.3 L1610.6,475.8" stroke="#000" stroke-width="2.0"/>
<path d="M39.3,310.5 L45.5,309.7 L51.7,308.9 L58.0,308.1 L64.2,307.3 L70.4,306.6 L76.7,305.8 L82.9,305.1 L89.1,304.4 L95.4,303.8 L101.6,303.1 L107.8,302.5 L114.0,301.9 L120.3,301.3 L126.5,300.7 L132.7,300.1 L139.0,299.6 L145.2,299.1 L151.4,298.6 L157.7,298.1 L163.9,297.6 L170.1,297.2 L176.4,296.8 L182.6,296.3 L188.8,295.9 L195.0,295.6 L201.3,295.2 L207.5,294.9 L213.7,294.6 L220.0,294.3 L226.2,294.0 L232.4,293.7 L238.7,293.4 L244.9,293.2 L251.1,293.0 L257.3,292.8 L263.6,292.6 L269.8,292.5 L276.0,292.3 L282.3,292.2 L288.5,292.1 L294.7,292.0 L301.0,291.9 L307.2,291.8 L313.4,291.8 L319.7,291.7 L325.9,291.7 L332.1,291.7 L338.3,291.7 L344.6,291.8 L350.8,291.8 L357.0,291.9 L363.3,292.0 L369.5,292.1 L375.7,292.2 L382.0,292.3 L388.2,292.5 L394.4,292.6 L400.6,292.8 L406.9,293.0 L413.1,293.2 L419.3,293.4 L425.6,293.7 L431.8,293.9 L438.0,294.2 L444.3,294.5 L450.5,294.8 L456.7,295.1 L463.0,295.4 L469.2,295.8 L475.4,296.1 L481.6,296.5 L487.9,296.9 L494.1,297.3 L500.3,297.7 L506.6,298.1 L512.8,298.6 L519.0,299.0 L525.3,299.5 L531.5,300.0 L537.7,300.5 L544.0,301.0 L550.2,301.5 L556.4,302.1 L562.6,302.7 L568.9,303.2 L575.1,303.8 L581.3,304.4 L587.6,305.0 L593.8,305.6 L600.0,306.3 L606.3,306.9 L612.5,307.6 L618.7,308.3 L624.9,309.0 L631.2,309.7 L637.4,310.4 L643.6,311.1 L649.9,311.9 L656.1,312.6 L662.3,313.4 L668.6,314.2 L674.8,315.0 L681.0,315.8 L687.3,316.6 L693.5,317.4 L699.7,318.3 L705.9,319.1 L712.2,320.0 L718.4,320.9 L724.6,321.8 L730.9,322.7 L737.1,323.6 L743.3,324.5 L749.6,325.5 L755.8,326.4 L762.0,327.4 L768.2,328.4 L774.5,329.4 L780.7,330.4 L786.9,331.4 L793.2,332.4 L799.4,333.4 L805.6,334.5 L811.9,335.5 L818.1,336.6 L824.3,337.7 L830.6,338.8 L836.8,339.9 L843.0,341.0 L849.2,342.1 L855.5,343.2 L861.7,344.4 L867.9,345.5 L874.2,346.7 L880.4,347.9 L886.6,349.1 L892.9,350.3 L899.1,351.5 L905.3,352.7 L911.5,353.9 L917.8,355.2 L924.0,356.4 L930.2,357.7 L936.5,358.9 L942.7,360.2 L948.9,361.5 L955.2,362.8 L961.4,364.1 L967.6,365.4 L973.9,366.7 L980.1,368.1 L986.3,369.4 L992.5,370.8 L998.8,372.1 L1005.0,373.5 L1011.2,374.9 L1017.5,376.3 L1023.7,377.7 L1029.9,379.1 L1036.2,380.5 L1042.4,382.0 L1048.6,383.4 L1054.9,384.8 L1061.1,386.3 L1067.3,387.8 L1073.5,389.2 L1079.8,390.7 L1086.0,392.2 L1092.2,393.7 L1098.5,395.2 L1104.7,396.7 L1110.9,398.2 L1117.2,399.8 L1123.4,401.3 L1129.6,402.9 L1135.8,404.4 L1142.1,406.0 L1148.3,407.6 L1154.5,409.1 L1160.8,410.7 L1167.0,412.3 L1173.2,413.9 L1179.5,415.5 L1185.7,417.1 L1191.9,418.8 L1198.2,420.4 L1204.4,422.0 L1210.6,423.7 L1216.8,425.4 L1223.1,427.0 L1229.3,428.7 L1235.5,430.4 L1241.8,432.0 L1248.0,433.7 L1254.2,435.4 L1260.5,437.1 L1266.7,438.9 L1272.9,440.6 L1279.1,442.3 L1285.4,444.0 L1291.6,445.8 L1297.8,447.5 L1304.1,449.3 L1310.3,451.0 L1316.5,452.8 L1322.8,454.6 L1329.0,456.4 L1335.2,458.1 L1341.5,459.9 L1347.7,461.7 L1353.9,463.5 L1360.1,465.3 L1366.4,467.2 L1372.6,469.0 L1378.8,470.8 L1385.1,472.6 L1391.3,474.5 L1397.5,476.3 L1403.8,478.2 L1410.0,480.0 L1416.2,481.9 L1422.5,483.8 L1428.7,485.6 L1434.9,487.5 L1441.1,489.4 L1447.4,491.3 L1453.6,493.2 L1459.8,495.1 L1466.1,497.0 L1472.3,498.9 L1478.5,500.8 L1484.8,502.7 L1491.0,504.7 L1497.2,506.6 L1503.4,508.5 L1509.7,510.5 L1512.8,511.4" stroke="#08468e" stroke-width="2.5"/>
<path d="M39.3,540.6 L45.5,533.2 L51.7,526.0 L58.0,519.0 L64.2,512.3 L70.4,505.8 L76.7,499.5 L82.9,493.4 L89.1,487.4 L95.4,481.7 L101.6,476.1 L107.8,470.7 L114.0,465.5 L120.3,460.4 L126.5,455.5 L132.7,450.7 L139.0,446.1 L145.2,441.5 L151.4,437.2 L157.7,432.9 L163.9,428.8 L170.1,424.8 L176.4,420.9 L182.6,417.1 L188.8,413.5 L195.0,409.9 L201.3,406.4 L207.5,403.1 L213.7,399.8 L220.0,396.6 L226.2,393.5 L232.4,390.5 L238.7,387.6 L244.9,384.8 L251.1,382.1 L257.3,379.4 L263.6,376.8 L269.8,374.3 L276.0,371.8 L282.3,369.5 L288.5,367.2 L294.7,364.9 L301.0,362.7 L307.2,360.6 L313.4,358.6 L319.7,356.6 L325.9,354.7 L332.1,352.8 L338.3,351.0 L344.6,349.2 L350.8,347.5 L357.0,345.9 L363.3,344.3 L369.5,342.7 L375.7,341.2 L382.0,339.8 L388.2,338.4 L394.4,337.0 L400.6,335.7 L406.9,334.4 L413.1,333.2 L419.3,332.0 L425.6,330.9 L431.8,329.7 L438.0,328.7 L444.3,327.7 L450.5,326.7 L456.7,325.7 L463.0,324.8 L469.2,323.9 L475.4,323.1 L481.6,322.2 L487.9,321.5 L494.1,320.7 L500.3,320.0 L506.6,319.3 L512.8,318.7 L519.0,318.0 L525.3,317.4 L531.5,316.9 L537.7,316.3 L544.0,315.8 L550.2,315.3 L556.4,314.9 L562.6,314.5 L568.9,314.1 L575.1,313.7 L581.3,313.3 L587.6,313.0 L593.8,312.7 L600.0,312.4 L606.3,312.2 L612.5,311.9 L618.7,311.7 L624.9,311.5 L631.2,311.4 L637.4,311.2 L643.6,311.1 L649.9,311.0 L656.1,310.9 L662.3,310.8 L668.6,310.8 L674.8,310.8 L681.0,310.8 L687.3,310.8 L693.5,310.8 L699.7,310.9 L705.9,310.9 L712.2,311.0 L718.4,311.1 L724.6,311.2 L730.9,311.4 L737.1,311.5 L743.3,311.7 L749.6,311.9 L755.8,312.1 L762.0,312.3 L768.2,312.6 L774.5,312.8 L780.7,313.1 L786.9,313.4 L793.2,313.7 L799.4,314.0 L805.6,314.3 L811.9,314.7 L818.1,315.1 L824.3,315.4 L830.6,315.8 L836.8,316.2 L843.0,316.7 L849.2,317.1 L855.5,317.6 L861.7,318.0 L867.9,318.5 L874.2,319.0 L880.4,319.5 L886.6,320.0 L892.9,320.6 L899.1,321.1 L905.3,321.7 L911.5,322.2 L917.8,322.8 L924.0,323.4 L930.2,324.1 L936.5,324.7 L942.7,325.3 L948.9,326.0 L955.2,326.7 L961.4,327.4 L967.6,328.1 L973.9,328.8 L980.1,329.5 L986.3,330.3 L992.5,331.0 L998.8,331.8 L1005.0,332.6 L1011.2,333.4 L1017.5,334.2 L1023.7,335.0 L1029.9,335.9 L1036.2,336.8 L1042.4,337.6 L1048.6,338.5 L1054.9,339.4 L1061.1,340.3 L1067.3,341.3 L1073.5,342.2 L1079.8,343.2 L1086.0,344.2 L1092.2,345.2 L1098.5,346.2 L1104.7,347.2 L1110.9,348.3 L1117.2,349.4 L1123.4,350.4 L1129.6,351.5 L1135.8,352.7 L1142.1,353.8 L1148.3,355.0 L1154.5,356.1 L1160.8,357.3 L1167.0,358.5 L1173.2,359.8 L1179.5,361.0 L1185.7,362.3 L1191.9,363.6 L1198.2,364.9 L1204.4,366.2 L1210.6,367.6 L1216.8,369.0 L1223.1,370.4 L1229.3,371.8 L1235.5,373.2 L1241.8,374.7 L1248.0,376.2 L1254.2,377.7 L1260.5,379.3 L1266.7,380.9 L1272.9,382.5 L1279.1,384.1 L1285.4,385.8 L1291.6,387.4 L1297.8,389.2 L1304.1,390.9 L1310.3,392.7 L1316.5,394.5 L1322.8,396.3 L1329.0,398.2 L1335.2,400.1 L1341.5,402.1 L1347.7,404.1 L1353.9,406.1 L1360.1,408.2 L1366.4,410.3 L1372.6,412.4 L1378.8,414.6 L1385.1,416.8 L1391.3,419.1 L1397.5,421.4 L1403.8,423.8 L1410.0,426.2 L1416.2,428.7 L1422.5,431.2 L1428.7,433.8 L1434.9,436.5 L1441.1,439.2 L1447.4,441.9 L1453.6,444.7 L1459.8,447.6 L1466.1,450.6 L1472.3,453.6 L1478.5,456.7 L1484.8,459.9 L1491.0,463.1 L1497.2,466.4 L1503.4,469.9 L1509.7,473.4 L1512.8,475.1" stroke="#000" stroke-width="2.0"/>
<path d="M39.3,354.2 L45.5,353.4 L51.7,352.7 L58.0,352.0 L64.2,351.3 L70.4,350.7 L76.7,350.0 L82.9,349.4 L89.1,348.8 L95.4,348.2 L101.6,347.6 L107.8,347.1 L114.0,346.6 L120.3,346.0 L126.5,345.5 L132.7,345.1 L139.0,344.6 L145.2,344.2 L151.4,343.8 L157.7,343.4 L163.9,343.0 L170.1,342.6 L176.4,342.3 L182.6,341.9 L188.8,341.6 L195.0,341.3 L201.3,341.1 L207.5,340.8 L213.7,340.6 L220.0,340.3 L226.2,340.1 L232.4,339.9 L238.7,339.8 L244.9,339.6 L251.1,339.5 L257.3,339.4 L263.6,339.2 L269.8,339.2 L276.0,339.1 L282.3,339.0 L288.5,339.0 L294.7,339.0 L301.0,339.0 L307.2,339.0 L313.4,339.0 L319.7,339.1 L325.9,339.1 L332.1,339.2 L338.3,339.3 L344.6,339.4 L350.8,339.5 L357.0,339.7 L363.3,339.8 L369.5,340.0 L375.7,340.2 L382.0,340.4 L388.2,340.6 L394.4,340.8 L400.6,341.1 L406.9,341.3 L413.1,341.6 L419.3,341.9 L425.6,342.2 L431.8,342.5 L438.0,342.9 L444.3,343.2 L450.5,343.6 L456.7,344.0 L463.0,344.4 L469.2,344.8 L475.4,345.2 L481.6,345.6 L487.9,346.1 L494.1,346.5 L500.3,347.0 L506.6,347.5 L512.8,348.0 L519.0,348.5 L525.3,349.1 L531.5,349.6 L537.7,350.2 L544.0,350.8 L550.2,351.4 L556.4,352.0 L562.6,352.6 L568.9,353.2 L575.1,353.8 L581.3,354.5 L587.6,355.2 L593.8,355.8 L600.0,356.5 L606.3,357.2 L612.5,358.0 L618.7,358.7 L624.9,359.4 L631.2,360.2 L637.4,361.0 L643.6,361.7 L649.9,362.5 L656.1,363.3 L662.3,364.1 L668.6,365.0 L674.8,365.8 L681.0,366.7 L687.3,367.5 L693.5,368.4 L699.7,369.3 L705.9,370.2 L712.2,371.1 L718.4,372.0 L724.6,372.9 L730.9,373.9 L737.1,374.8 L743.3,375.8 L749.6,376.8 L755.8,377.8 L762.0,378.8 L768.2,379.8 L774.5,380.8 L780.7,381.8 L786.9,382.9 L793.2,383.9 L799.4,385.0 L805.6,386.1 L811.9,387.2 L818.1,388.2 L824.3,389.4 L830.6,390.5 L836.8,391.6 L843.0,392.7 L849.2,393.9 L855.5,395.0 L861.7,396.2 L867.9,397.4 L874.2,398.5 L880.4,399.7 L886.6,400.9 L892.9,402.2 L899.1,403.4 L905.3,404.6 L911.5,405.8 L917.8,407.1 L924.0,408.4 L930.2,409.6 L936.5,410.9 L942.7,412.2 L948.9,413.5 L955.2,414.8 L961.4,416.1 L967.6,417.4 L973.9,418.7 L980.1,420.1 L986.3,421.4 L992.5,422.8 L998.8,424.2 L1005.0,425.5 L1011.2,426.9 L1017.5,428.3 L1023.7,429.7 L1029.9,431.1 L1036.2,432.5 L1042.4,433.9 L1048.6,435.4 L1054.9,436.8 L1061.1,438.2 L1067.3,439.7 L1073.5,441.1 L1079.8,442.6 L1086.0,444.1 L1092.2,445.6 L1098.5,447.1 L1104.7,448.6 L1110.9,450.1 L1117.2,451.6 L1123.4,453.1 L1129.6,454.6 L1135.8,456.1 L1142.1,457.7 L1148.3,459.2 L1154.5,460.8 L1160.8,462.3 L1167.0,463.9 L1173.2,465.5 L1179.5,467.1 L1185.7,468.6 L1191.9,470.2 L1198.2,471.8 L1204.4,473.4 L1210.6,475.1 L1216.8,476.7 L1223.1,478.3 L1229.3,479.9 L1235.5,481.6 L1241.8,483.2 L1248.0,484.9 L1254.2,486.5 L1260.5,488.2 L1266.7,489.8 L1272.9,491.5 L1279.1,493.2 L1285.4,494.9 L1291.6,496.5 L1297.8,498.2 L1304.1,499.9 L1310.3,501.6 L1316.5,503.4 L1322.8,505.1 L1329.0,506.8 L1335.2,508.5 L1341.5,510.2 L1347.7,512.0 L1353.9,513.7 L1360.1,515.5 L1365.6,517.0" stroke="#08468e" stroke-width="2.5"/>
<path d="M39.3,540.6 L45.5,532.9 L51.7,525.5 L58.0,518.3 L64.2,511.3 L70.4,504.6 L76.7,498.0 L82.9,491.7 L89.1,485.6 L95.4,479.7 L101.6,474.0 L107.8,468.4 L114.0,463.1 L120.3,457.9 L126.5,452.8 L132.7,447.9 L139.0,443.2 L145.2,438.6 L151.4,434.1 L157.7,429.8 L163.9,425.6 L170.1,421.6 L176.4,417.6 L182.6,413.8 L188.8,410.1 L195.0,406.5 L201.3,403.0 L207.5,399.6 L213.7,396.4 L220.0,393.2 L226.2,390.1 L232.4,387.1 L238.7,384.2 L244.9,381.4 L251.1,378.7 L257.3,376.1 L263.6,373.5 L269.8,371.0 L276.0,368.6 L282.3,366.3 L288.5,364.0 L294.7,361.9 L301.0,359.8 L307.2,357.7 L313.4,355.7 L319.7,353.8 L325.9,352.0 L332.1,350.2 L338.3,348.5 L344.6,346.8 L350.8,345.2 L357.0,343.6 L363.3,342.1 L369.5,340.7 L375.7,339.3 L382.0,338.0 L388.2,336.7 L394.4,335.4 L400.6,334.2 L406.9,333.1 L413.1,332.0 L419.3,330.9 L425.6,329.9 L431.8,328.9 L438.0,328.0 L444.3,327.1 L450.5,326.2 L456.7,325.4 L463.0,324.6 L469.2,323.9 L475.4,323.2 L481.6,322.5 L487.9,321.9 L494.1,321.3 L500.3,320.7 L506.6,320.2 L512.8,319.7 L519.0,319.2 L525.3,318.8 L531.5,318.4 L537.7,318.0 L544.0,317.7 L550.2,317.3 L556.4,317.0 L562.6,316.8 L568.9,316.5 L575.1,316.3 L581.3,316.2 L587.6,316.0 L593.8,315.9 L600.0,315.8 L606.3,315.7 L612.5,315.6 L618.7,315.6 L624.9,315.6 L631.2,315.6 L637.4,315.6 L643.6,315.7 L649.9,315.8 L656.1,315.9 L662.3,316.0 L668.6,316.2 L674.8,316.3 L681.0,316.5 L687.3,316.7 L693.5,317.0 L699.7,317.2 L705.9,317.5 L712.2,317.8 L718.4,318.1 L724.6,318.4 L730.9,318.8 L737.1,319.1 L743.3,319.5 L749.6,319.9 L755.8,320.3 L762.0,320.8 L768.2,321.2 L774.5,321.7 L780.7,322.2 L786.9,322.7 L793.2,323.2 L799.4,323.8 L805.6,324.3 L811.9,324.9 L818.1,325.5 L824.3,326.1 L830.6,326.8 L836.8,327.4 L843.0,328.1 L849.2,328.8 L855.5,329.5 L861.7,330.2 L867.9,330.9 L874.2,331.7 L880.4,332.5 L886.6,333.2 L892.9,334.0 L899.1,334.9 L905.3,335.7 L911.5,336.6 L917.8,337.5 L924.0,338.4 L930.2,339.3 L936.5,340.2 L942.7,341.2 L948.9,342.1 L955.2,343.1 L961.4,344.1 L967.6,345.1 L973.9,346.2 L980.1,347.3 L986.3,348.3 L992.5,349.4 L998.8,350.6 L1005.0,351.7 L1011.2,352.9 L1017.5,354.1 L1023.7,355.3 L1029.9,356.5 L1036.2,357.8 L1042.4,359.1 L1048.6,360.4 L1054.9,361.7 L1061.1,363.0 L1067.3,364.4 L1073.5,365.8 L1079.8,367.2 L1086.0,368.7 L1092.2,370.2 L1098.5,371.7 L1104.7,373.2 L1110.9,374.8 L1117.2,376.4 L1123.4,378.0 L1129.6,379.6 L1135.8,381.3 L1142.1,383.0 L1148.3,384.8 L1154.5,386.5 L1160.8,388.4 L1167.0,390.2 L1173.2,392.1 L1179.5,394.0 L1185.7,396.0 L1191.9,398.0 L1198.2,400.0 L1204.4,402.1 L1210.6,404.3 L1216.8,406.4 L1223.1,408.7 L1229.3,410.9 L1235.5,413.2 L1241.8,415.6 L1248.0,418.0 L1254.2,420.5 L1260.5,423.0 L1266.7,425.6 L1272.9,428.3 L1279.1,431.0 L1285.4,433.8 L1291.6,436.6 L1297.8,439.5 L1304.1,442.5 L1310.3,445.6 L1316.5,448.7 L1322.8,451.9 L1329.0,455.2 L1335.2,458.6 L1341.5,462.1 L1347.7,465.6 L1353.9,469.3 L1360.1,473.1 L1365.6,476.5" stroke="#000" stroke-width="2.0"/>
<path d="M39.3,392.9 L45.5,392.3 L51.7,391.6 L58.0,391.0 L64.2,390.4 L70.4,389.8 L76.7,389.3 L82.9,388.7 L89.1,388.2 L95.4,387.7 L101.6,387.2 L107.8,386.8 L114.0,386.3 L120.3,385.9 L126.5,385.5 L132.7,385.1 L139.0,384.7 L145.2,384.3 L151.4,384.0 L157.7,383.7 L163.9,383.4 L170.1,383.1 L176.4,382.8 L182.6,382.6 L188.8,382.3 L195.0,382.1 L201.3,381.9 L207.5,381.8 L213.7,381.6 L220.0,381.5 L226.2,381.3 L232.4,381.2 L238.7,381.1 L244.9,381.0 L251.1,381.0 L257.3,380.9 L263.6,380.9 L269.8,380.9 L276.0,380.9 L282.3,380.9 L288.5,381.0 L294.7,381.0 L301.0,381.1 L307.2,381.2 L313.4,381.3 L319.7,381.4 L325.9,381.5 L332.1,381.7 L338.3,381.8 L344.6,382.0 L350.8,382.2 L357.0,382.4 L363.3,382.6 L369.5,382.9 L375.7,383.1 L382.0,383.4 L388.2,383.7 L394.4,384.0 L400.6,384.3 L406.9,384.6 L413.1,385.0 L419.3,385.3 L425.6,385.7 L431.8,386.1 L438.0,386.5 L444.3,386.9 L450.5,387.3 L456.7,387.8 L463.0,388.2 L469.2,388.7 L475.4,389.2 L481.6,389.7 L487.9,390.2 L494.1,390.7 L500.3,391.3 L506.6,391.8 L512.8,392.4 L519.0,392.9 L525.3,393.5 L531.5,394.1 L537.7,394.7 L544.0,395.4 L550.2,396.0 L556.4,396.7 L562.6,397.3 L568.9,398.0 L575.1,398.7 L581.3,399.4 L587.6,400.1 L593.8,400.8 L600.0,401.6 L606.3,402.3 L612.5,403.1 L618.7,403.9 L624.9,404.6 L631.2,405.4 L637.4,406.2 L643.6,407.1 L649.9,407.9 L656.1,408.7 L662.3,409.6 L668.6,410.4 L674.8,411.3 L681.0,412.2 L687.3,413.1 L693.5,414.0 L699.7,414.9 L705.9,415.9 L712.2,416.8 L718.4,417.8 L724.6,418.7 L730.9,419.7 L737.1,420.7 L743.3,421.7 L749.6,422.7 L755.8,423.7 L762.0,424.7 L768.2,425.7 L774.5,426.8 L780.7,427.8 L786.9,428.9 L793.2,429.9 L799.4,431.0 L805.6,432.1 L811.9,433.2 L818.1,434.3 L824.3,435.4 L830.6,436.6 L836.8,437.7 L843.0,438.8 L849.2,440.0 L855.5,441.1 L861.7,442.3 L867.9,443.5 L874.2,444.7 L880.4,445.9 L886.6,447.1 L892.9,448.3 L899.1,449.5 L905.3,450.7 L911.5,452.0 L917.8,453.2 L924.0,454.5 L930.2,455.7 L936.5,457.0 L942.7,458.3 L948.9,459.6 L955.2,460.9 L961.4,462.2 L967.6,463.5 L973.9,464.8 L980.1,466.1 L986.3,467.4 L992.5,468.8 L998.8,470.1 L1005.0,471.5 L1011.2,472.8 L1017.5,474.2 L1023.7,475.6 L1029.9,477.0 L1036.2,478.3 L1042.4,479.7 L1048.6,481.1 L1054.9,482.5 L1061.1,484.0 L1067.3,485.4 L1073.5,486.8 L1079.8,488.2 L1086.0,489.7 L1092.2,491.1 L1098.5,492.6 L1104.7,494.0 L1110.9,495.5 L1117.2,496.9 L1123.4,498.4 L1129.6,499.9 L1135.8,501.4 L1142.1,502.9 L1148.3,504.4 L1154.5,505.9 L1160.8,507.4 L1167.0,508.9 L1173.2,510.4 L1179.5,511.9 L1185.7,513.5 L1191.9,515.0 L1198.2,516.5 L1204.4,518.1 L1210.6,519.6 L1216.8,521.2 L1219.7,521.9" stroke="#08468e" stroke-width="2.5"/>
<path d="M39.3,540.6 L45.5,532.7 L51.7,525.0 L58.0,517.6 L64.2,510.4 L70.4,503.4 L76.7,496.7 L82.9,490.2 L89.1,484.0 L95.4,477.9 L101.6,472.0 L107.8,466.3 L114.0,460.8 L120.3,455.5 L126.5,450.4 L132.7,445.4 L139.0,440.6 L145.2,435.9 L151.4,431.4 L157.7,427.0 L163.9,422.7 L170.1,418.6 L176.4,414.7 L182.6,410.8 L188.8,407.1 L195.0,403.5 L201.3,400.0 L207.5,396.6 L213.7,393.3 L220.0,390.2 L226.2,387.1 L232.4,384.2 L238.7,381.3 L244.9,378.6 L251.1,375.9 L257.3,373.3 L263.6,370.8 L269.8,368.4 L276.0,366.1 L282.3,363.8 L288.5,361.7 L294.7,359.6 L301.0,357.6 L307.2,355.6 L313.4,353.8 L319.7,352.0 L325.9,350.2 L332.1,348.6 L338.3,347.0 L344.6,345.4 L350.8,343.9 L357.0,342.5 L363.3,341.2 L369.5,339.9 L375.7,338.6 L382.0,337.4 L388.2,336.3 L394.4,335.2 L400.6,334.1 L406.9,333.1 L413.1,332.2 L419.3,331.3 L425.6,330.5 L431.8,329.6 L438.0,328.9 L444.3,328.2 L450.5,327.5 L456.7,326.9 L463.0,326.3 L469.2,325.7 L475.4,325.2 L481.6,324.7 L487.9,324.3 L494.1,323.9 L500.3,323.5 L506.6,323.2 L512.8,322.9 L519.0,322.6 L525.3,322.4 L531.5,322.2 L537.7,322.0 L544.0,321.9 L550.2,321.8 L556.4,321.7 L562.6,321.7 L568.9,321.6 L575.1,321.7 L581.3,321.7 L587.6,321.8 L593.8,321.9 L600.0,322.0 L606.3,322.1 L612.5,322.3 L618.7,322.5 L624.9,322.7 L631.2,323.0 L637.4,323.3 L643.6,323.6 L649.9,323.9 L656.1,324.3 L662.3,324.6 L668.6,325.0 L674.8,325.5 L681.0,325.9 L687.3,326.4 L693.5,326.9 L699.7,327.4 L705.9,327.9 L712.2,328.5 L718.4,329.1 L724.6,329.7 L730.9,330.3 L737.1,331.0 L743.3,331.7 L749.6,332.4 L755.8,333.1 L762.0,333.8 L768.2,334.6 L774.5,335.4 L780.7,336.2 L786.9,337.0 L793.2,337.9 L799.4,338.7 L805.6,339.6 L811.9,340.5 L818.1,341.5 L824.3,342.4 L830.6,343.4 L836.8,344.4 L843.0,345.5 L849.2,346.5 L855.5,347.6 L861.7,348.7 L867.9,349.9 L874.2,351.0 L880.4,352.2 L886.6,353.4 L892.9,354.6 L899.1,355.9 L905.3,357.2 L911.5,358.5 L917.8,359.8 L924.0,361.2 L930.2,362.6 L936.5,364.0 L942.7,365.5 L948.9,367.0 L955.2,368.5 L961.4,370.0 L967.6,371.6 L973.9,373.2 L980.1,374.9 L986.3,376.5 L992.5,378.2 L998.8,380.0 L1005.0,381.8 L1011.2,383.6 L1017.5,385.5 L1023.7,387.4 L1029.9,389.3 L1036.2,391.3 L1042.4,393.4 L1048.6,395.4 L1054.9,397.6 L1061.1,399.8 L1067.3,402.0 L1073.5,404.3 L1079.8,406.6 L1086.0,409.0 L1092.2,411.4 L1098.5,413.9 L1104.7,416.5 L1110.9,419.1 L1117.2,421.8 L1123.4,424.5 L1129.6,427.4 L1135.8,430.3 L1142.1,433.3 L1148.3,436.3 L1154.5,439.4 L1160.8,442.7 L1167.0,446.0 L1173.2,449.4 L1179.5,452.9 L1185.7,456.5 L1191.9,460.2 L1198.2,464.0 L1204.4,467.9 L1210.6,472.0 L1216.8,476.2 L1219.7,478.1" stroke="#000" stroke-width="2.0"/>
<path d="M39.3,427.4 L45.5,426.8 L51.7,426.3 L58.0,425.8 L64.2,425.2 L70.4,424.7 L76.7,424.3 L82.9,423.8 L89.1,423.4 L95.4,422.9 L101.6,422.5 L107.8,422.1 L114.0,421.8 L120.3,421.4 L126.5,421.1 L132.7,420.8 L139.0,420.5 L145.2,420.2 L151.4,420.0 L157.7,419.7 L163.9,419.5 L170.1,419.3 L176.4,419.1 L182.6,418.9 L188.8,418.8 L195.0,418.7 L201.3,418.5 L207.5,418.4 L213.7,418.4 L220.0,418.3 L226.2,418.2 L232.4,418.2 L238.7,418.2 L244.9,418.2 L251.1,418.2 L257.3,418.2 L263.6,418.3 L269.8,418.3 L276.0,418.4 L282.3,418.5 L288.5,418.6 L294.7,418.8 L301.0,418.9 L307.2,419.1 L313.4,419.2 L319.7,419.4 L325.9,419.6 L332.1,419.8 L338.3,420.1 L344.6,420.3 L350.8,420.6 L357.0,420.9 L363.3,421.2 L369.5,421.5 L375.7,421.8 L382.0,422.1 L388.2,422.5 L394.4,422.8 L400.6,423.2 L406.9,423.6 L413.1,424.0 L419.3,424.4 L425.6,424.9 L431.8,425.3 L438.0,425.8 L444.3,426.2 L450.5,426.7 L456.7,427.2 L463.0,427.7 L469.2,428.2 L475.4,428.8 L481.6,429.3 L487.9,429.9 L494.1,430.5 L500.3,431.0 L506.6,431.6 L512.8,432.3 L519.0,432.9 L525.3,433.5 L531.5,434.2 L537.7,434.8 L544.0,435.5 L550.2,436.2 L556.4,436.9 L562.6,437.6 L568.9,438.3 L575.1,439.0 L581.3,439.8 L587.6,440.5 L593.8,441.3 L600.0,442.0 L606.3,442.8 L612.5,443.6 L618.7,444.4 L624.9,445.2 L631.2,446.1 L637.4,446.9 L643.6,447.8 L649.9,448.6 L656.1,449.5 L662.3,450.4 L668.6,451.3 L674.8,452.1 L681.0,453.1 L687.3,454.0 L693.5,454.9 L699.7,455.8 L705.9,456.8 L712.2,457.7 L718.4,458.7 L724.6,459.7 L730.9,460.7 L737.1,461.7 L743.3,462.7 L749.6,463.7 L755.8,464.7 L762.0,465.7 L768.2,466.7 L774.5,467.8 L780.7,468.8 L786.9,469.9 L793.2,471.0 L799.4,472.1 L805.6,473.1 L811.9,474.2 L818.1,475.3 L824.3,476.4 L830.6,477.6 L836.8,478.7 L843.0,479.8 L849.2,481.0 L855.5,482.1 L861.7,483.3 L867.9,484.4 L874.2,485.6 L880.4,486.8 L886.6,488.0 L892.9,489.2 L899.1,490.4 L905.3,491.6 L911.5,492.8 L917.8,494.0 L924.0,495.2 L930.2,496.5 L936.5,497.7 L942.7,498.9 L948.9,500.2 L955.2,501.5 L961.4,502.7 L967.6,504.0 L973.9,505.3 L980.1,506.5 L986.3,507.8 L992.5,509.1 L998.8,510.4 L1005.0,511.7 L1011.2,513.0 L1017.5,514.4 L1023.7,515.7 L1029.9,517.0 L1036.2,518.3 L1042.4,519.7 L1048.6,521.0 L1054.9,522.4 L1061.1,523.7 L1067.3,525.1 L1072.8,526.3" stroke="#08468e" stroke-width="2.5"/>
<path d="M39.3,540.6 L45.5,532.6 L51.7,524.8 L58.0,517.3 L64.2,510.0 L70.4,503.0 L76.7,496.2 L82.9,489.6 L89.1,483.2 L95.4,477.1 L101.6,471.2 L107.8,465.4 L114.0,459.8 L120.3,454.5 L126.5,449.3 L132.7,444.2 L139.0,439.4 L145.2,434.7 L151.4,430.1 L157.7,425.7 L163.9,421.5 L170.1,417.4 L176.4,413.4 L182.6,409.6 L188.8,405.9 L195.0,402.3 L201.3,398.9 L207.5,395.5 L213.7,392.3 L220.0,389.2 L226.2,386.2 L232.4,383.4 L238.7,380.6 L244.9,377.9 L251.1,375.3 L257.3,372.8 L263.6,370.5 L269.8,368.2 L276.0,366.0 L282.3,363.8 L288.5,361.8 L294.7,359.8 L301.0,358.0 L307.2,356.2 L313.4,354.5 L319.7,352.8 L325.9,351.2 L332.1,349.7 L338.3,348.3 L344.6,346.9 L350.8,345.6 L357.0,344.4 L363.3,343.2 L369.5,342.1 L375.7,341.1 L382.0,340.1 L388.2,339.1 L394.4,338.3 L400.6,337.4 L406.9,336.6 L413.1,335.9 L419.3,335.2 L425.6,334.6 L431.8,334.0 L438.0,333.5 L444.3,333.0 L450.5,332.6 L456.7,332.2 L463.0,331.9 L469.2,331.6 L475.4,331.3 L481.6,331.1 L487.9,330.9 L494.1,330.7 L500.3,330.6 L506.6,330.6 L512.8,330.5 L519.0,330.5 L525.3,330.6 L531.5,330.7 L537.7,330.8 L544.0,330.9 L550.2,331.1 L556.4,331.3 L562.6,331.6 L568.9,331.9 L575.1,332.2 L581.3,332.5 L587.6,332.9 L593.8,333.3 L600.0,333.8 L606.3,334.2 L612.5,334.7 L618.7,335.3 L624.9,335.8 L631.2,336.4 L637.4,337.1 L643.6,337.7 L649.9,338.4 L656.1,339.1 L662.3,339.8 L668.6,340.6 L674.8,341.4 L681.0,342.2 L687.3,343.1 L693.5,344.0 L699.7,344.9 L705.9,345.9 L712.2,346.8 L718.4,347.8 L724.6,348.9 L730.9,349.9 L737.1,351.0 L743.3,352.2 L749.6,353.3 L755.8,354.5 L762.0,355.7 L768.2,357.0 L774.5,358.3 L780.7,359.6 L786.9,360.9 L793.2,362.3 L799.4,363.8 L805.6,365.2 L811.9,366.7 L818.1,368.2 L824.3,369.8 L830.6,371.4 L836.8,373.1 L843.0,374.7 L849.2,376.5 L855.5,378.2 L861.7,380.0 L867.9,381.9 L874.2,383.8 L880.4,385.7 L886.6,387.7 L892.9,389.8 L899.1,391.9 L905.3,394.0 L911.5,396.2 L917.8,398.5 L924.0,400.8 L930.2,403.2 L936.5,405.6 L942.7,408.1 L948.9,410.7 L955.2,413.3 L961.4,416.0 L967.6,418.8 L973.9,421.7 L980.1,424.6 L986.3,427.7 L992.5,430.8 L998.8,434.0 L1005.0,437.3 L1011.2,440.7 L1017.5,444.2 L1023.7,447.8 L1029.9,451.5 L1036.2,455.3 L1042.4,459.3 L1048.6,463.4 L1054.9,467.6 L1061.1,472.0 L1067.3,476.5 L1072.8,480.6" stroke="#000" stroke-width="2.0"/>
<path d="M39.3,457.1 L45.5,456.6 L51.7,456.2 L58.0,455.7 L64.2,455.3 L70.4,454.9 L76.7,454.5 L82.9,454.1 L89.1,453.7 L95.4,453.4 L101.6,453.1 L107.8,452.8 L114.0,452.5 L120.3,452.2 L126.5,452.0 L132.7,451.7 L139.0,451.5 L145.2,451.3 L151.4,451.1 L157.7,451.0 L163.9,450.8 L170.1,450.7 L176.4,450.6 L182.6,450.5 L188.8,450.4 L195.0,450.4 L201.3,450.3 L207.5,450.3 L213.7,450.3 L220.0,450.3 L226.2,450.4 L232.4,450.4 L238.7,450.5 L244.9,450.5 L251.1,450.6 L257.3,450.7 L263.6,450.8 L269.8,451.0 L276.0,451.1 L282.3,451.3 L288.5,451.5 L294.7,451.7 L301.0,451.9 L307.2,452.1 L313.4,452.3 L319.7,452.6 L325.9,452.9 L332.1,453.1 L338.3,453.4 L344.6,453.8 L350.8,454.1 L357.0,454.4 L363.3,454.8 L369.5,455.1 L375.7,455.5 L382.0,455.9 L388.2,456.3 L394.4,456.7 L400.6,457.2 L406.9,457.6 L413.1,458.1 L419.3,458.5 L425.6,459.0 L431.8,459.5 L438.0,460.0 L444.3,460.6 L450.5,461.1 L456.7,461.6 L463.0,462.2 L469.2,462.8 L475.4,463.3 L481.6,463.9 L487.9,464.5 L494.1,465.1 L500.3,465.8 L506.6,466.4 L512.8,467.1 L519.0,467.7 L525.3,468.4 L531.5,469.1 L537.7,469.8 L544.0,470.5 L550.2,471.2 L556.4,471.9 L562.6,472.6 L568.9,473.4 L575.1,474.1 L581.3,474.9 L587.6,475.7 L593.8,476.5 L600.0,477.3 L606.3,478.1 L612.5,478.9 L618.7,479.7 L624.9,480.5 L631.2,481.4 L637.4,482.2 L643.6,483.1 L649.9,483.9 L656.1,484.8 L662.3,485.7 L668.6,486.6 L674.8,487.5 L681.0,488.4 L687.3,489.3 L693.5,490.3 L699.7,491.2 L705.9,492.1 L712.2,493.1 L718.4,494.0 L724.6,495.0 L730.9,496.0 L737.1,497.0 L743.3,498.0 L749.6,499.0 L755.8,500.0 L762.0,501.0 L768.2,502.0 L774.5,503.0 L780.7,504.0 L786.9,505.1 L793.2,506.1 L799.4,507.2 L805.6,508.2 L811.9,509.3 L818.1,510.4 L824.3,511.5 L830.6,512.5 L836.8,513.6 L843.0,514.7 L849.2,515.8 L855.5,516.9 L861.7,518.1 L867.9,519.2 L874.2,520.3 L880.4,521.4 L886.6,522.6 L892.9,523.7 L899.1,524.9 L905.3,526.0 L911.5,527.2 L917.8,528.3 L924.0,529.5 L926.9,530.1" stroke="#08468e" stroke-width="2.5"/>
<path d="M39.3,540.6 L45.5,532.8 L51.7,525.2 L58.0,517.8 L64.2,510.6 L70.4,503.7 L76.7,497.0 L82.9,490.5 L89.1,484.2 L95.4,478.2 L101.6,472.3 L107.8,466.6 L114.0,461.1 L120.3,455.8 L126.5,450.6 L132.7,445.6 L139.0,440.8 L145.2,436.2 L151.4,431.7 L157.7,427.4 L163.9,423.2 L170.1,419.2 L176.4,415.3 L182.6,411.6 L188.8,408.0 L195.0,404.5 L201.3,401.1 L207.5,397.9 L213.7,394.8 L220.0,391.8 L226.2,389.0 L232.4,386.2 L238.7,383.6 L244.9,381.1 L251.1,378.7 L257.3,376.4 L263.6,374.1 L269.8,372.0 L276.0,370.0 L282.3,368.1 L288.5,366.2 L294.7,364.5 L301.0,362.8 L307.2,361.2 L313.4,359.7 L319.7,358.3 L325.9,356.9 L332.1,355.7 L338.3,354.5 L344.6,353.4 L350.8,352.3 L357.0,351.3 L363.3,350.4 L369.5,349.6 L375.7,348.8 L382.0,348.1 L388.2,347.4 L394.4,346.8 L400.6,346.3 L406.9,345.8 L413.1,345.4 L419.3,345.0 L425.6,344.7 L431.8,344.4 L438.0,344.2 L444.3,344.1 L450.5,343.9 L456.7,343.9 L463.0,343.9 L469.2,343.9 L475.4,344.0 L481.6,344.1 L487.9,344.3 L494.1,344.5 L500.3,344.8 L506.6,345.1 L512.8,345.4 L519.0,345.8 L525.3,346.3 L531.5,346.8 L537.7,347.3 L544.0,347.8 L550.2,348.4 L556.4,349.1 L562.6,349.8 L568.9,350.5 L575.1,351.3 L581.3,352.1 L587.6,352.9 L593.8,353.8 L600.0,354.7 L606.3,355.7 L612.5,356.7 L618.7,357.7 L624.9,358.8 L631.2,360.0 L637.4,361.1 L643.6,362.3 L649.9,363.6 L656.1,364.9 L662.3,366.2 L668.6,367.6 L674.8,369.0 L681.0,370.5 L687.3,372.0 L693.5,373.6 L699.7,375.2 L705.9,376.9 L712.2,378.6 L718.4,380.4 L724.6,382.2 L730.9,384.1 L737.1,386.0 L743.3,388.0 L749.6,390.0 L755.8,392.1 L762.0,394.3 L768.2,396.5 L774.5,398.8 L780.7,401.1 L786.9,403.6 L793.2,406.1 L799.4,408.6 L805.6,411.3 L811.9,414.0 L818.1,416.8 L824.3,419.7 L830.6,422.7 L836.8,425.8 L843.0,429.0 L849.2,432.3 L855.5,435.7 L861.7,439.2 L867.9,442.9 L874.2,446.6 L880.4,450.5 L886.6,454.5 L892.9,458.7 L899.1,463.0 L905.3,467.5 L911.5,472.2 L917.8,477.0 L924.0,482.0 L926.9,484.4" stroke="#000" stroke-width="2.0"/>
<path d="M39.3,482.3 L45.5,481.9 L51.7,481.5 L58.0,481.2 L64.2,480.8 L70.4,480.5 L76.7,480.2 L82.9,479.9 L89.1,479.6 L95.4,479.3 L101.6,479.1 L107.8,478.9 L114.0,478.7 L120.3,478.5 L126.5,478.3 L132.7,478.2 L139.0,478.0 L145.2,477.9 L151.4,477.8 L157.7,477.7 L163.9,477.7 L170.1,477.6 L176.4,477.6 L182.6,477.6 L188.8,477.6 L195.0,477.6 L201.3,477.6 L207.5,477.7 L213.7,477.7 L220.0,477.8 L226.2,477.9 L232.4,478.0 L238.7,478.2 L244.9,478.3 L251.1,478.5 L257.3,478.6 L263.6,478.8 L269.8,479.0 L276.0,479.2 L282.3,479.5 L288.5,479.7 L294.7,480.0 L301.0,480.3 L307.2,480.5 L313.4,480.8 L319.7,481.2 L325.9,481.5 L332.1,481.8 L338.3,482.2 L344.6,482.6 L350.8,482.9 L357.0,483.3 L363.3,483.7 L369.5,484.1 L375.7,484.6 L382.0,485.0 L388.2,485.5 L394.4,485.9 L400.6,486.4 L406.9,486.9 L413.1,487.4 L419.3,487.9 L425.6,488.4 L431.8,489.0 L438.0,489.5 L444.3,490.1 L450.5,490.7 L456.7,491.2 L463.0,491.8 L469.2,492.4 L475.4,493.0 L481.6,493.7 L487.9,494.3 L494.1,494.9 L500.3,495.6 L506.6,496.2 L512.8,496.9 L519.0,497.6 L525.3,498.3 L531.5,499.0 L537.7,499.7 L544.0,500.4 L550.2,501.1 L556.4,501.9 L562.6,502.6 L568.9,503.4 L575.1,504.1 L581.3,504.9 L587.6,505.7 L593.8,506.4 L600.0,507.2 L606.3,508.0 L612.5,508.8 L618.7,509.7 L624.9,510.5 L631.2,511.3 L637.4,512.2 L643.6,513.0 L649.9,513.8 L656.1,514.7 L662.3,515.6 L668.6,516.4 L674.8,517.3 L681.0,518.2 L687.3,519.1 L693.5,520.0 L699.7,520.9 L705.9,521.8 L712.2,522.7 L718.4,523.7 L724.6,524.6 L730.9,525.5 L737.1,526.5 L743.3,527.4 L749.6,528.4 L755.8,529.3 L762.0,530.3 L768.2,531.2 L774.5,532.2 L780.7,533.2 L781.0,533.2" stroke="#08468e" stroke-width="2.5"/>
<path d="M39.3,540.6 L45.5,533.6 L51.7,526.7 L58.0,520.0 L64.2,513.4 L70.4,507.0 L76.7,500.8 L82.9,494.8 L89.1,489.0 L95.4,483.3 L101.6,477.8 L107.8,472.4 L114.0,467.3 L120.3,462.3 L126.5,457.4 L132.7,452.7 L139.0,448.2 L145.2,443.8 L151.4,439.6 L157.7,435.5 L163.9,431.6 L170.1,427.8 L176.4,424.1 L182.6,420.6 L188.8,417.3 L195.0,414.0 L201.3,410.9 L207.5,407.9 L213.7,405.1 L220.0,402.4 L226.2,399.7 L232.4,397.2 L238.7,394.9 L244.9,392.6 L251.1,390.4 L257.3,388.4 L263.6,386.5 L269.8,384.6 L276.0,382.9 L282.3,381.2 L288.5,379.7 L294.7,378.2 L301.0,376.9 L307.2,375.6 L313.4,374.4 L319.7,373.3 L325.9,372.3 L332.1,371.4 L338.3,370.6 L344.6,369.8 L350.8,369.1 L357.0,368.5 L363.3,367.9 L369.5,367.5 L375.7,367.1 L382.0,366.8 L388.2,366.5 L394.4,366.3 L400.6,366.2 L406.9,366.1 L413.1,366.1 L419.3,366.2 L425.6,366.3 L431.8,366.5 L438.0,366.8 L444.3,367.1 L450.5,367.5 L456.7,367.9 L463.0,368.4 L469.2,369.0 L475.4,369.6 L481.6,370.3 L487.9,371.0 L494.1,371.8 L500.3,372.6 L506.6,373.5 L512.8,374.5 L519.0,375.5 L525.3,376.6 L531.5,377.7 L537.7,378.9 L544.0,380.2 L550.2,381.5 L556.4,382.8 L562.6,384.3 L568.9,385.8 L575.1,387.3 L581.3,389.0 L587.6,390.6 L593.8,392.4 L600.0,394.2 L606.3,396.1 L612.5,398.1 L618.7,400.1 L624.9,402.2 L631.2,404.4 L637.4,406.7 L643.6,409.0 L649.9,411.5 L656.1,414.0 L662.3,416.6 L668.6,419.4 L674.8,422.2 L681.0,425.1 L687.3,428.1 L693.5,431.2 L699.7,434.5 L705.9,437.9 L712.2,441.4 L718.4,445.0 L724.6,448.8 L730.9,452.7 L737.1,456.8 L743.3,461.1 L749.6,465.5 L755.8,470.1 L762.0,474.9 L768.2,479.9 L774.5,485.1 L780.7,490.6 L781.0,490.9" stroke="#000" stroke-width="2.0"/>
<path d="M39.3,503.2 L45.5,502.8 L51.7,502.5 L58.0,502.2 L64.2,502.0 L70.4,501.7 L76.7,501.5 L82.9,501.3 L89.1,501.1 L95.4,500.9 L101.6,500.7 L107.8,500.6 L114.0,500.5 L120.3,500.4 L126.5,500.3 L132.7,500.2 L139.0,500.2 L145.2,500.1 L151.4,500.1 L157.7,500.1 L163.9,500.1 L170.1,500.1 L176.4,500.2 L182.6,500.2 L188.8,500.3 L195.0,500.4 L201.3,500.5 L207.5,500.6 L213.7,500.8 L220.0,500.9 L226.2,501.1 L232.4,501.3 L238.7,501.5 L244.9,501.7 L251.1,501.9 L257.3,502.1 L263.6,502.4 L269.8,502.7 L276.0,502.9 L282.3,503.2 L288.5,503.5 L294.7,503.8 L301.0,504.2 L307.2,504.5 L313.4,504.9 L319.7,505.2 L325.9,505.6 L332.1,506.0 L338.3,506.4 L344.6,506.8 L350.8,507.2 L357.0,507.7 L363.3,508.1 L369.5,508.6 L375.7,509.0 L382.0,509.5 L388.2,510.0 L394.4,510.5 L400.6,511.0 L406.9,511.5 L413.1,512.0 L419.3,512.6 L425.6,513.1 L431.8,513.7 L438.0,514.2 L444.3,514.8 L450.5,515.4 L456.7,516.0 L463.0,516.6 L469.2,517.2 L475.4,517.8 L481.6,518.4 L487.9,519.1 L494.1,519.7 L500.3,520.4 L506.6,521.0 L512.8,521.7 L519.0,522.4 L525.3,523.0 L531.5,523.7 L537.7,524.4 L544.0,525.1 L550.2,525.8 L556.4,526.5 L562.6,527.2 L568.9,528.0 L575.1,528.7 L581.3,529.4 L587.6,530.2 L593.8,530.9 L600.0,531.7 L606.3,532.4 L612.5,533.2 L618.7,534.0 L624.9,534.8 L631.2,535.5 L634.0,535.9" stroke="#08468e" stroke-width="2.5"/>
<path d="M39.3,540.6 L45.5,534.6 L51.7,528.7 L58.0,522.9 L64.2,517.3 L70.4,511.7 L76.7,506.2 L82.9,500.9 L89.1,495.7 L95.4,490.7 L101.6,485.8 L107.8,481.0 L114.0,476.3 L120.3,471.8 L126.5,467.5 L132.7,463.3 L139.0,459.2 L145.2,455.2 L151.4,451.5 L157.7,447.8 L163.9,444.3 L170.1,440.9 L176.4,437.7 L182.6,434.6 L188.8,431.7 L195.0,428.8 L201.3,426.1 L207.5,423.6 L213.7,421.2 L220.0,418.9 L226.2,416.7 L232.4,414.6 L238.7,412.7 L244.9,410.9 L251.1,409.2 L257.3,407.6 L263.6,406.1 L269.8,404.8 L276.0,403.5 L282.3,402.4 L288.5,401.4 L294.7,400.5 L301.0,399.6 L307.2,398.9 L313.4,398.3 L319.7,397.7 L325.9,397.3 L332.1,397.0 L338.3,396.7 L344.6,396.6 L350.8,396.5 L357.0,396.5 L363.3,396.6 L369.5,396.9 L375.7,397.1 L382.0,397.5 L388.2,398.0 L394.4,398.5 L400.6,399.2 L406.9,399.9 L413.1,400.7 L419.3,401.6 L425.6,402.6 L431.8,403.6 L438.0,404.8 L444.3,406.0 L450.5,407.3 L456.7,408.8 L463.0,410.3 L469.2,411.9 L475.4,413.5 L481.6,415.3 L487.9,417.2 L494.1,419.2 L500.3,421.3 L506.6,423.5 L512.8,425.8 L519.0,428.2 L525.3,430.7 L531.5,433.4 L537.7,436.1 L544.0,439.0 L550.2,442.1 L556.4,445.2 L562.6,448.6 L568.9,452.0 L575.1,455.7 L581.3,459.5 L587.6,463.5 L593.8,467.6 L600.0,472.0 L606.3,476.6 L612.5,481.4 L618.7,486.4 L624.9,491.7 L631.2,497.3 L634.0,499.9" stroke="#000" stroke-width="2.0"/>
</g>
<g stroke="#000" stroke-width="1.6" fill="none">
<line x1="39.2" y1="0" x2="39.2" y2="541.4"/>
<line x1="1743.95" y1="0" x2="1743.95" y2="541.4"/>
<line x1="38.4" y1="540.65" x2="1744.75" y2="540.65"/>
</g>
<g stroke="#000" stroke-width="1.35" fill="none">
<line x1="32" y1="540.65" x2="39" y2="540.65"/>
<line x1="32" y1="502.04" x2="39" y2="502.04"/>
<line x1="32" y1="463.43" x2="39" y2="463.43"/>
<line x1="32" y1="424.82" x2="39" y2="424.82"/>
<line x1="32" y1="386.21" x2="39" y2="386.21"/>
<line x1="32" y1="347.60" x2="39" y2="347.60"/>
<line x1="32" y1="308.99" x2="39" y2="308.99"/>
<line x1="32" y1="270.38" x2="39" y2="270.38"/>
<line x1="32" y1="231.77" x2="39" y2="231.77"/>
<line x1="32" y1="193.16" x2="39" y2="193.16"/>
<line x1="32" y1="154.55" x2="39" y2="154.55"/>
<line x1="32" y1="115.94" x2="39" y2="115.94"/>
<line x1="1743.95" y1="540.65" x2="1751" y2="540.65"/>
<line x1="1743.95" y1="502.04" x2="1751" y2="502.04"/>
<line x1="1743.95" y1="463.43" x2="1751" y2="463.43"/>
<line x1="1743.95" y1="424.82" x2="1751" y2="424.82"/>
<line x1="1743.95" y1="386.21" x2="1751" y2="386.21"/>
<line x1="1743.95" y1="347.60" x2="1751" y2="347.60"/>
<line x1="1743.95" y1="308.99" x2="1751" y2="308.99"/>
<line x1="1743.95" y1="270.38" x2="1751" y2="270.38"/>
<line x1="1743.95" y1="231.77" x2="1751" y2="231.77"/>
<line x1="1743.95" y1="193.16" x2="1751" y2="193.16"/>
<line x1="1743.95" y1="154.55" x2="1751" y2="154.55"/>
<line x1="39.28" y1="540.65" x2="39.28" y2="548"/>
<line x1="163.89" y1="540.65" x2="163.89" y2="548"/>
<line x1="288.50" y1="540.65" x2="288.50" y2="548"/>
<line x1="413.11" y1="540.65" x2="413.11" y2="548"/>
<line x1="537.72" y1="540.65" x2="537.72" y2="548"/>
<line x1="662.33" y1="540.65" x2="662.33" y2="548"/>
<line x1="786.94" y1="540.65" x2="786.94" y2="548"/>
<line x1="911.55" y1="540.65" x2="911.55" y2="548"/>
<line x1="1036.16" y1="540.65" x2="1036.16" y2="548"/>
<line x1="1160.77" y1="540.65" x2="1160.77" y2="548"/>
<line x1="1285.38" y1="540.65" x2="1285.38" y2="548"/>
<line x1="1409.99" y1="540.65" x2="1409.99" y2="548"/>
<line x1="1534.60" y1="540.65" x2="1534.60" y2="548"/>
<line x1="1659.21" y1="540.65" x2="1659.21" y2="548"/>
</g>
<text transform="translate(25.8,545.6) scale(1.00,1)" text-anchor="end">0</text>
<text transform="translate(25.8,507.0) scale(1.00,1)" text-anchor="end">1</text>
<text transform="translate(25.8,468.4) scale(1.00,1)" text-anchor="end">2</text>
<text transform="translate(25.8,429.8) scale(1.00,1)" text-anchor="end">3</text>
<text transform="translate(25.8,391.2) scale(1.00,1)" text-anchor="end">4</text>
<text transform="translate(25.8,352.6) scale(1.00,1)" text-anchor="end">5</text>
<text transform="translate(25.8,314.0) scale(1.00,1)" text-anchor="end">6</text>
<text transform="translate(25.8,275.4) scale(1.00,1)" text-anchor="end">7</text>
<text transform="translate(25.8,236.8) scale(1.00,1)" text-anchor="end">8</text>
<text transform="translate(25.8,198.2) scale(1.00,1)" text-anchor="end">9</text>
<text transform="translate(25.8,159.5) scale(0.94,1)" text-anchor="end">10</text>
<text transform="translate(25.8,120.9) scale(0.94,1)" text-anchor="end">11</text>
<text transform="translate(1756.3,544.9) scale(1.00,1)" text-anchor="start">0</text>
<text transform="translate(1756.3,506.3) scale(0.94,1)" text-anchor="start">10</text>
<text transform="translate(1756.3,467.7) scale(0.94,1)" text-anchor="start">20</text>
<text transform="translate(1756.3,429.1) scale(0.94,1)" text-anchor="start">30</text>
<text transform="translate(1756.3,390.5) scale(0.94,1)" text-anchor="start">40</text>
<text transform="translate(1756.3,351.9) scale(0.94,1)" text-anchor="start">50</text>
<text transform="translate(1756.3,313.3) scale(0.94,1)" text-anchor="start">60</text>
<text transform="translate(1756.3,274.7) scale(0.94,1)" text-anchor="start">70</text>
<text transform="translate(1756.3,236.1) scale(0.94,1)" text-anchor="start">80</text>
<text transform="translate(1756.3,197.5) scale(0.94,1)" text-anchor="start">90</text>
<text transform="translate(1756.3,158.8) scale(0.94,1)" text-anchor="start">100</text>
<text transform="translate(38.8,563.0) scale(1.00,1)" text-anchor="middle">0</text>
<text transform="translate(163.4,563.0) scale(1.00,1)" text-anchor="middle">1</text>
<text transform="translate(288.0,563.0) scale(1.00,1)" text-anchor="middle">2</text>
<text transform="translate(412.6,563.0) scale(1.00,1)" text-anchor="middle">3</text>
<text transform="translate(537.2,563.0) scale(1.00,1)" text-anchor="middle">4</text>
<text transform="translate(661.8,563.0) scale(1.00,1)" text-anchor="middle">5</text>
<text transform="translate(786.4,563.0) scale(1.00,1)" text-anchor="middle">6</text>
<text transform="translate(911.0,563.0) scale(1.00,1)" text-anchor="middle">7</text>
<text transform="translate(1035.7,563.0) scale(1.00,1)" text-anchor="middle">8</text>
<text transform="translate(1160.3,563.0) scale(1.00,1)" text-anchor="middle">9</text>
<text transform="translate(1284.9,563.0) scale(0.94,1)" text-anchor="middle">10</text>
<text transform="translate(1409.5,563.0) scale(0.94,1)" text-anchor="middle">11</text>
<text transform="translate(1534.1,563.0) scale(0.94,1)" text-anchor="middle">12</text>
<text x="1673" y="563">Q [m³/h]</text>
<text x="19" y="15.9" text-anchor="middle">H</text>
<text x="18.5" y="34.6" text-anchor="middle">[m]</text>
<text x="1765.8" y="14.7" text-anchor="middle">eta</text>
<text x="1766" y="35.4" text-anchor="middle">[%]</text>
<rect x="1562.5" y="-2" width="181" height="30.4" fill="#fff" stroke="#666" stroke-width="1"/>
<text transform="translate(1568,19.1) scale(0.98,1)">MAGNA3 32-100 F N</text>
<line x1="39" y1="0.5" x2="1744" y2="0.5" stroke="#8c8c8c" stroke-width="1"/>
<text x="42" y="589">Pumped liquid = Water</text>
<text x="42" y="610.5">Liquid temperature during operation = 60 °C</text>
<text x="42" y="632">Density = 983.2 kg/m³</text>
<g stroke="#c9c9c9" stroke-width="1" fill="none">
<line x1="163.89" y1="646.6" x2="163.89" y2="1056"/>
<line x1="288.50" y1="646.6" x2="288.50" y2="1056"/>
<line x1="413.11" y1="646.6" x2="413.11" y2="1056"/>
<line x1="537.72" y1="646.6" x2="537.72" y2="1056"/>
<line x1="662.33" y1="646.6" x2="662.33" y2="1056"/>
<line x1="786.94" y1="646.6" x2="786.94" y2="1056"/>
<line x1="911.55" y1="646.6" x2="911.55" y2="1056"/>
<line x1="1036.16" y1="646.6" x2="1036.16" y2="1056"/>
<line x1="1160.77" y1="646.6" x2="1160.77" y2="1056"/>
<line x1="1285.38" y1="646.6" x2="1285.38" y2="1056"/>
<line x1="1409.99" y1="646.6" x2="1409.99" y2="1056"/>
<line x1="1534.60" y1="646.6" x2="1534.60" y2="1056"/>
<line x1="1659.21" y1="646.6" x2="1659.21" y2="1056"/>
<line x1="40" y1="1016.50" x2="1743" y2="1016.50"/>
<line x1="40" y1="976.50" x2="1743" y2="976.50"/>
<line x1="40" y1="936.50" x2="1743" y2="936.50"/>
<line x1="40" y1="896.50" x2="1743" y2="896.50"/>
<line x1="40" y1="856.50" x2="1743" y2="856.50"/>
<line x1="40" y1="816.50" x2="1743" y2="816.50"/>
<line x1="40" y1="776.50" x2="1743" y2="776.50"/>
<line x1="40" y1="736.50" x2="1743" y2="736.50"/>
<line x1="40" y1="696.50" x2="1743" y2="696.50"/>
<line x1="40" y1="656.50" x2="1743" y2="656.50"/>
</g>
<path d="M39.3,1039.9 L45.5,1039.6 L51.7,1039.3 L58.0,1039.1 L64.2,1038.8 L70.4,1038.5 L76.7,1038.2 L82.9,1037.9 L89.1,1037.6 L95.4,1037.3 L101.6,1037.0 L107.8,1036.7 L114.0,1036.4 L120.3,1036.1 L126.5,1035.8 L132.7,1035.5 L139.0,1035.2 L145.2,1034.9 L151.4,1034.6 L157.7,1034.3 L163.9,1034.0 L170.1,1033.7 L176.4,1033.3 L182.6,1033.0 L188.8,1032.7 L195.0,1032.4 L201.3,1032.1 L207.5,1031.8 L213.7,1031.5 L220.0,1031.2 L226.2,1030.9 L232.4,1030.6 L238.7,1030.3 L244.9,1030.0 L251.1,1029.7 L257.3,1029.4 L263.6,1029.1 L269.8,1028.8 L276.0,1028.5 L282.3,1028.2 L288.5,1027.9 L294.7,1027.7 L301.0,1027.4 L307.2,1027.1 L313.4,1026.9 L319.7,1026.6 L325.9,1026.4 L332.1,1026.1 L338.3,1025.9 L344.6,1025.7 L350.8,1025.4 L357.0,1025.2 L363.3,1025.0 L369.5,1024.8 L375.7,1024.6 L382.0,1024.4 L388.2,1024.3 L394.4,1024.1 L400.6,1023.9 L406.9,1023.8 L413.1,1023.6 L419.3,1023.5 L425.6,1023.4 L431.8,1023.3 L438.0,1023.2 L444.3,1023.1 L450.5,1023.0 L456.7,1022.9 L463.0,1022.9 L469.2,1022.8 L475.4,1022.8 L481.6,1022.8 L487.9,1022.8 L494.1,1022.8 L500.3,1022.8 L506.6,1022.8 L512.8,1022.9 L519.0,1022.9 L525.3,1023.0 L531.5,1023.1 L537.7,1023.2 L544.0,1023.3 L550.2,1023.4 L556.4,1023.6 L562.6,1023.8 L568.9,1023.9 L575.1,1024.1 L581.3,1024.3 L587.6,1024.5 L593.8,1024.8 L600.0,1025.0 L606.3,1025.3 L612.5,1025.6 L618.7,1025.9 L624.9,1026.2 L631.2,1026.5 L634.0,1026.7 L781.0,1009.1 L926.9,984.6 L1072.8,950.1 L1219.7,904.4 L1365.6,846.3 L1432.4,714.5 L1428.7,714.5 L1422.5,714.5 L1416.2,714.5 L1410.0,714.5 L1403.8,714.5 L1397.5,714.5 L1391.3,714.5 L1385.1,714.5 L1378.8,714.5 L1372.6,714.5 L1366.4,714.5 L1360.1,714.5 L1353.9,714.5 L1347.7,714.5 L1341.5,714.5 L1335.2,714.5 L1329.0,714.5 L1322.8,714.5 L1316.5,714.5 L1310.3,714.5 L1304.1,714.5 L1297.8,714.5 L1291.6,714.5 L1285.4,714.5 L1279.1,714.5 L1272.9,714.5 L1266.7,714.5 L1260.5,714.5 L1254.2,714.5 L1248.0,714.5 L1241.8,714.5 L1235.5,714.5 L1229.3,714.5 L1223.1,714.5 L1216.8,714.5 L1210.6,714.5 L1204.4,714.5 L1198.2,714.5 L1191.9,714.5 L1185.7,714.5 L1179.5,714.5 L1173.2,714.5 L1167.0,714.5 L1160.8,714.5 L1154.5,714.5 L1148.3,714.5 L1142.1,714.5 L1135.8,714.5 L1129.6,714.5 L1123.4,714.5 L1117.2,714.5 L1110.9,714.5 L1104.7,714.5 L1098.5,714.5 L1092.2,714.5 L1086.0,714.5 L1079.8,714.5 L1073.5,714.5 L1067.3,714.5 L1061.1,714.5 L1054.9,714.5 L1048.6,714.5 L1042.4,714.5 L1036.2,714.5 L1029.9,714.5 L1023.7,714.5 L1017.5,714.5 L1011.2,714.5 L1005.0,714.5 L998.8,714.5 L992.5,714.5 L986.3,714.5 L980.1,714.5 L973.9,714.5 L967.6,714.5 L961.4,714.5 L955.2,714.5 L948.9,714.5 L942.7,714.5 L936.5,714.5 L930.2,714.5 L924.0,714.5 L917.8,714.5 L911.5,714.5 L905.3,714.5 L899.1,714.5 L892.9,714.5 L886.6,714.5 L880.4,714.5 L874.2,714.5 L867.9,714.5 L861.7,714.5 L855.5,714.5 L849.2,714.5 L843.0,714.5 L836.8,714.5 L830.6,714.5 L824.3,714.5 L818.1,714.5 L811.9,714.5 L805.6,714.5 L799.4,714.5 L793.2,714.5 L786.9,714.5 L780.7,714.5 L774.5,714.5 L768.2,714.5 L762.0,714.5 L755.8,714.5 L749.6,714.5 L743.3,714.5 L737.1,714.5 L730.9,714.5 L724.6,714.5 L718.4,714.5 L712.2,714.5 L705.9,714.5 L699.7,714.5 L693.5,714.5 L687.3,714.5 L681.0,714.5 L674.8,714.5 L668.6,714.5 L662.3,714.5 L656.1,714.5 L649.9,714.5 L643.6,714.5 L637.4,714.5 L631.2,714.5 L624.9,714.5 L618.7,714.5 L612.5,714.5 L606.3,714.5 L600.0,714.5 L593.8,714.5 L587.6,714.5 L581.3,714.5 L575.1,714.5 L568.9,714.5 L562.6,714.5 L556.4,714.5 L550.2,714.5 L544.0,714.5 L537.7,714.5 L531.5,714.5 L525.3,714.5 L519.0,714.5 L512.8,714.5 L506.6,714.5 L500.3,714.5 L494.1,714.5 L487.9,714.5 L481.6,714.5 L475.4,714.5 L469.2,714.5 L463.0,714.5 L460.5,715.0 L456.7,716.8 L450.5,719.7 L444.3,722.6 L438.0,725.5 L431.8,728.4 L425.6,731.3 L419.3,734.2 L413.1,737.1 L406.9,740.0 L400.6,742.9 L394.4,745.8 L388.2,748.6 L382.0,751.5 L375.7,754.4 L369.5,757.3 L363.3,760.1 L357.0,763.0 L350.8,765.9 L344.6,768.7 L338.3,771.6 L332.1,774.4 L325.9,777.3 L319.7,780.1 L313.4,783.0 L307.2,785.8 L301.0,788.6 L294.7,791.5 L288.5,794.3 L282.3,797.1 L276.0,800.0 L269.8,802.8 L263.6,805.6 L257.3,808.4 L251.1,811.2 L244.9,814.0 L238.7,816.8 L232.4,819.6 L226.2,822.5 L220.0,825.2 L213.7,828.0 L207.5,830.8 L201.3,833.6 L195.0,836.4 L188.8,839.2 L182.6,842.0 L176.4,844.8 L170.1,847.5 L163.9,850.3 L157.7,853.1 L151.4,855.8 L145.2,858.6 L139.0,861.4 L132.7,864.1 L126.5,866.9 L120.3,869.6 L114.0,872.4 L107.8,875.1 L101.6,877.9 L95.4,880.6 L89.1,883.3 L82.9,886.1 L76.7,888.8 L70.4,891.5 L64.2,894.2 L58.0,897.0 L51.7,899.7 L45.5,902.4 L39.3,905.1Z" fill="#c8d6e4" fill-opacity="0.85" stroke="none"/>
<g clip-path="url(#c2)" fill="none" stroke="#08468e" stroke-width="2.5" stroke-linecap="round" stroke-linejoin="round">
<path d="M39.3,1039.9 L45.5,1039.6 L51.7,1039.3 L58.0,1039.1 L64.2,1038.8 L70.4,1038.5 L76.7,1038.2 L82.9,1037.9 L89.1,1037.6 L95.4,1037.3 L101.6,1037.0 L107.8,1036.7 L114.0,1036.4 L120.3,1036.1 L126.5,1035.8 L132.7,1035.5 L139.0,1035.2 L145.2,1034.9 L151.4,1034.6 L157.7,1034.3 L163.9,1034.0 L170.1,1033.7 L176.4,1033.3 L182.6,1033.0 L188.8,1032.7 L195.0,1032.4 L201.3,1032.1 L207.5,1031.8 L213.7,1031.5 L220.0,1031.2 L226.2,1030.9 L232.4,1030.6 L238.7,1030.3 L244.9,1030.0 L251.1,1029.7 L257.3,1029.4 L263.6,1029.1 L269.8,1028.8 L276.0,1028.5 L282.3,1028.2 L288.5,1027.9 L294.7,1027.7 L301.0,1027.4 L307.2,1027.1 L313.4,1026.9 L319.7,1026.6 L325.9,1026.4 L332.1,1026.1 L338.3,1025.9 L344.6,1025.7 L350.8,1025.4 L357.0,1025.2 L363.3,1025.0 L369.5,1024.8 L375.7,1024.6 L382.0,1024.4 L388.2,1024.3 L394.4,1024.1 L400.6,1023.9 L406.9,1023.8 L413.1,1023.6 L419.3,1023.5 L425.6,1023.4 L431.8,1023.3 L438.0,1023.2 L444.3,1023.1 L450.5,1023.0 L456.7,1022.9 L463.0,1022.9 L469.2,1022.8 L475.4,1022.8 L481.6,1022.8 L487.9,1022.8 L494.1,1022.8 L500.3,1022.8 L506.6,1022.8 L512.8,1022.9 L519.0,1022.9 L525.3,1023.0 L531.5,1023.1 L537.7,1023.2 L544.0,1023.3 L550.2,1023.4 L556.4,1023.6 L562.6,1023.8 L568.9,1023.9 L575.1,1024.1 L581.3,1024.3 L587.6,1024.5 L593.8,1024.8 L600.0,1025.0 L606.3,1025.3 L612.5,1025.6 L618.7,1025.9 L624.9,1026.2 L631.2,1026.5 L634.0,1026.7"/>
<path d="M39.3,1034.7 L45.5,1034.3 L51.7,1033.8 L58.0,1033.4 L64.2,1033.0 L70.4,1032.5 L76.7,1032.1 L82.9,1031.6 L89.1,1031.2 L95.4,1030.7 L101.6,1030.3 L107.8,1029.8 L114.0,1029.3 L120.3,1028.9 L126.5,1028.4 L132.7,1027.9 L139.0,1027.5 L145.2,1027.0 L151.4,1026.5 L157.7,1026.0 L163.9,1025.6 L170.1,1025.1 L176.4,1024.6 L182.6,1024.1 L188.8,1023.6 L195.0,1023.2 L201.3,1022.7 L207.5,1022.2 L213.7,1021.7 L220.0,1021.2 L226.2,1020.7 L232.4,1020.2 L238.7,1019.8 L244.9,1019.3 L251.1,1018.8 L257.3,1018.3 L263.6,1017.8 L269.8,1017.4 L276.0,1016.9 L282.3,1016.4 L288.5,1015.9 L294.7,1015.5 L301.0,1015.0 L307.2,1014.6 L313.4,1014.1 L319.7,1013.6 L325.9,1013.2 L332.1,1012.8 L338.3,1012.3 L344.6,1011.9 L350.8,1011.4 L357.0,1011.0 L363.3,1010.6 L369.5,1010.2 L375.7,1009.8 L382.0,1009.4 L388.2,1009.0 L394.4,1008.6 L400.6,1008.2 L406.9,1007.8 L413.1,1007.5 L419.3,1007.1 L425.6,1006.8 L431.8,1006.4 L438.0,1006.1 L444.3,1005.8 L450.5,1005.5 L456.7,1005.2 L463.0,1004.9 L469.2,1004.6 L475.4,1004.3 L481.6,1004.1 L487.9,1003.8 L494.1,1003.6 L500.3,1003.3 L506.6,1003.1 L512.8,1002.9 L519.0,1002.7 L525.3,1002.5 L531.5,1002.4 L537.7,1002.2 L544.0,1002.1 L550.2,1002.0 L556.4,1001.9 L562.6,1001.8 L568.9,1001.7 L575.1,1001.6 L581.3,1001.6 L587.6,1001.5 L593.8,1001.5 L600.0,1001.5 L606.3,1001.5 L612.5,1001.5 L618.7,1001.6 L624.9,1001.6 L631.2,1001.7 L637.4,1001.8 L643.6,1001.9 L649.9,1002.0 L656.1,1002.2 L662.3,1002.3 L668.6,1002.5 L674.8,1002.7 L681.0,1002.9 L687.3,1003.2 L693.5,1003.4 L699.7,1003.7 L705.9,1004.0 L712.2,1004.3 L718.4,1004.6 L724.6,1005.0 L730.9,1005.4 L737.1,1005.7 L743.3,1006.2 L749.6,1006.6 L755.8,1007.0 L762.0,1007.5 L768.2,1008.0 L774.5,1008.5 L780.7,1009.0 L781.0,1009.1"/>
<path d="M39.3,1028.5 L45.5,1027.9 L51.7,1027.3 L58.0,1026.6 L64.2,1026.0 L70.4,1025.4 L76.7,1024.8 L82.9,1024.1 L89.1,1023.5 L95.4,1022.8 L101.6,1022.2 L107.8,1021.5 L114.0,1020.9 L120.3,1020.2 L126.5,1019.6 L132.7,1018.9 L139.0,1018.2 L145.2,1017.6 L151.4,1016.9 L157.7,1016.2 L163.9,1015.5 L170.1,1014.9 L176.4,1014.2 L182.6,1013.5 L188.8,1012.8 L195.0,1012.1 L201.3,1011.4 L207.5,1010.7 L213.7,1010.0 L220.0,1009.4 L226.2,1008.7 L232.4,1008.0 L238.7,1007.3 L244.9,1006.6 L251.1,1005.9 L257.3,1005.2 L263.6,1004.5 L269.8,1003.8 L276.0,1003.1 L282.3,1002.4 L288.5,1001.7 L294.7,1001.0 L301.0,1000.4 L307.2,999.7 L313.4,999.0 L319.7,998.3 L325.9,997.6 L332.1,997.0 L338.3,996.3 L344.6,995.6 L350.8,994.9 L357.0,994.3 L363.3,993.6 L369.5,993.0 L375.7,992.3 L382.0,991.7 L388.2,991.0 L394.4,990.4 L400.6,989.8 L406.9,989.2 L413.1,988.5 L419.3,987.9 L425.6,987.3 L431.8,986.7 L438.0,986.2 L444.3,985.6 L450.5,985.0 L456.7,984.4 L463.0,983.9 L469.2,983.3 L475.4,982.8 L481.6,982.3 L487.9,981.7 L494.1,981.2 L500.3,980.7 L506.6,980.2 L512.8,979.8 L519.0,979.3 L525.3,978.8 L531.5,978.4 L537.7,978.0 L544.0,977.5 L550.2,977.1 L556.4,976.7 L562.6,976.3 L568.9,976.0 L575.1,975.6 L581.3,975.3 L587.6,974.9 L593.8,974.6 L600.0,974.3 L606.3,974.0 L612.5,973.7 L618.7,973.5 L624.9,973.2 L631.2,973.0 L637.4,972.8 L643.6,972.6 L649.9,972.4 L656.1,972.3 L662.3,972.1 L668.6,972.0 L674.8,971.9 L681.0,971.8 L687.3,971.7 L693.5,971.7 L699.7,971.6 L705.9,971.6 L712.2,971.6 L718.4,971.6 L724.6,971.7 L730.9,971.7 L737.1,971.8 L743.3,971.9 L749.6,972.0 L755.8,972.1 L762.0,972.3 L768.2,972.5 L774.5,972.7 L780.7,972.9 L786.9,973.1 L793.2,973.4 L799.4,973.7 L805.6,974.0 L811.9,974.3 L818.1,974.7 L824.3,975.0 L830.6,975.4 L836.8,975.9 L843.0,976.3 L849.2,976.8 L855.5,977.3 L861.7,977.8 L867.9,978.3 L874.2,978.9 L880.4,979.4 L886.6,980.1 L892.9,980.7 L899.1,981.3 L905.3,982.0 L911.5,982.7 L917.8,983.5 L924.0,984.2 L926.9,984.6"/>
<path d="M39.3,1019.5 L45.5,1018.7 L51.7,1017.8 L58.0,1017.0 L64.2,1016.1 L70.4,1015.3 L76.7,1014.4 L82.9,1013.6 L89.1,1012.7 L95.4,1011.9 L101.6,1011.0 L107.8,1010.1 L114.0,1009.2 L120.3,1008.3 L126.5,1007.5 L132.7,1006.6 L139.0,1005.7 L145.2,1004.8 L151.4,1003.9 L157.7,1003.0 L163.9,1002.0 L170.1,1001.1 L176.4,1000.2 L182.6,999.3 L188.8,998.4 L195.0,997.5 L201.3,996.5 L207.5,995.6 L213.7,994.7 L220.0,993.7 L226.2,992.8 L232.4,991.9 L238.7,990.9 L244.9,990.0 L251.1,989.1 L257.3,988.1 L263.6,987.2 L269.8,986.2 L276.0,985.3 L282.3,984.4 L288.5,983.4 L294.7,982.5 L301.0,981.5 L307.2,980.6 L313.4,979.7 L319.7,978.7 L325.9,977.8 L332.1,976.8 L338.3,975.9 L344.6,975.0 L350.8,974.0 L357.0,973.1 L363.3,972.2 L369.5,971.3 L375.7,970.4 L382.0,969.4 L388.2,968.5 L394.4,967.6 L400.6,966.7 L406.9,965.8 L413.1,964.9 L419.3,964.0 L425.6,963.2 L431.8,962.3 L438.0,961.4 L444.3,960.6 L450.5,959.7 L456.7,958.8 L463.0,958.0 L469.2,957.2 L475.4,956.3 L481.6,955.5 L487.9,954.7 L494.1,953.9 L500.3,953.1 L506.6,952.3 L512.8,951.5 L519.0,950.7 L525.3,950.0 L531.5,949.2 L537.7,948.5 L544.0,947.7 L550.2,947.0 L556.4,946.3 L562.6,945.6 L568.9,944.9 L575.1,944.2 L581.3,943.5 L587.6,942.9 L593.8,942.2 L600.0,941.6 L606.3,941.0 L612.5,940.4 L618.7,939.8 L624.9,939.2 L631.2,938.7 L637.4,938.1 L643.6,937.6 L649.9,937.1 L656.1,936.6 L662.3,936.1 L668.6,935.6 L674.8,935.1 L681.0,934.7 L687.3,934.3 L693.5,933.9 L699.7,933.5 L705.9,933.1 L712.2,932.8 L718.4,932.4 L724.6,932.1 L730.9,931.8 L737.1,931.5 L743.3,931.3 L749.6,931.0 L755.8,930.8 L762.0,930.6 L768.2,930.4 L774.5,930.2 L780.7,930.1 L786.9,930.0 L793.2,929.9 L799.4,929.8 L805.6,929.7 L811.9,929.7 L818.1,929.7 L824.3,929.7 L830.6,929.7 L836.8,929.8 L843.0,929.8 L849.2,929.9 L855.5,930.1 L861.7,930.2 L867.9,930.4 L874.2,930.5 L880.4,930.8 L886.6,931.0 L892.9,931.3 L899.1,931.6 L905.3,931.9 L911.5,932.2 L917.8,932.6 L924.0,933.0 L930.2,933.4 L936.5,933.8 L942.7,934.3 L948.9,934.8 L955.2,935.3 L961.4,935.8 L967.6,936.4 L973.9,937.0 L980.1,937.6 L986.3,938.3 L992.5,938.9 L998.8,939.6 L1005.0,940.4 L1011.2,941.1 L1017.5,941.9 L1023.7,942.7 L1029.9,943.6 L1036.2,944.5 L1042.4,945.4 L1048.6,946.3 L1054.9,947.2 L1061.1,948.2 L1067.3,949.2 L1072.8,950.1"/>
<path d="M39.3,1007.7 L45.5,1006.6 L51.7,1005.5 L58.0,1004.4 L64.2,1003.3 L70.4,1002.2 L76.7,1001.1 L82.9,1000.0 L89.1,998.9 L95.4,997.8 L101.6,996.6 L107.8,995.5 L114.0,994.3 L120.3,993.2 L126.5,992.0 L132.7,990.9 L139.0,989.7 L145.2,988.6 L151.4,987.4 L157.7,986.2 L163.9,985.1 L170.1,983.9 L176.4,982.7 L182.6,981.5 L188.8,980.3 L195.0,979.1 L201.3,977.9 L207.5,976.7 L213.7,975.5 L220.0,974.3 L226.2,973.1 L232.4,971.9 L238.7,970.7 L244.9,969.5 L251.1,968.3 L257.3,967.0 L263.6,965.8 L269.8,964.6 L276.0,963.4 L282.3,962.1 L288.5,960.9 L294.7,959.7 L301.0,958.5 L307.2,957.2 L313.4,956.0 L319.7,954.8 L325.9,953.5 L332.1,952.3 L338.3,951.1 L344.6,949.9 L350.8,948.6 L357.0,947.4 L363.3,946.2 L369.5,945.0 L375.7,943.8 L382.0,942.5 L388.2,941.3 L394.4,940.1 L400.6,938.9 L406.9,937.7 L413.1,936.5 L419.3,935.3 L425.6,934.1 L431.8,932.9 L438.0,931.7 L444.3,930.5 L450.5,929.4 L456.7,928.2 L463.0,927.0 L469.2,925.9 L475.4,924.7 L481.6,923.6 L487.9,922.4 L494.1,921.3 L500.3,920.1 L506.6,919.0 L512.8,917.9 L519.0,916.8 L525.3,915.7 L531.5,914.6 L537.7,913.5 L544.0,912.4 L550.2,911.4 L556.4,910.3 L562.6,909.3 L568.9,908.2 L575.1,907.2 L581.3,906.2 L587.6,905.2 L593.8,904.2 L600.0,903.2 L606.3,902.2 L612.5,901.2 L618.7,900.3 L624.9,899.4 L631.2,898.4 L637.4,897.5 L643.6,896.6 L649.9,895.7 L656.1,894.8 L662.3,894.0 L668.6,893.1 L674.8,892.3 L681.0,891.5 L687.3,890.7 L693.5,889.9 L699.7,889.1 L705.9,888.4 L712.2,887.6 L718.4,886.9 L724.6,886.2 L730.9,885.5 L737.1,884.8 L743.3,884.2 L749.6,883.5 L755.8,882.9 L762.0,882.3 L768.2,881.7 L774.5,881.2 L780.7,880.6 L786.9,880.1 L793.2,879.6 L799.4,879.1 L805.6,878.6 L811.9,878.2 L818.1,877.8 L824.3,877.3 L830.6,877.0 L836.8,876.6 L843.0,876.3 L849.2,875.9 L855.5,875.6 L861.7,875.4 L867.9,875.1 L874.2,874.9 L880.4,874.7 L886.6,874.5 L892.9,874.3 L899.1,874.2 L905.3,874.1 L911.5,874.0 L917.8,873.9 L924.0,873.9 L930.2,873.9 L936.5,873.9 L942.7,873.9 L948.9,874.0 L955.2,874.1 L961.4,874.2 L967.6,874.3 L973.9,874.5 L980.1,874.7 L986.3,874.9 L992.5,875.2 L998.8,875.4 L1005.0,875.7 L1011.2,876.1 L1017.5,876.4 L1023.7,876.8 L1029.9,877.2 L1036.2,877.7 L1042.4,878.2 L1048.6,878.7 L1054.9,879.2 L1061.1,879.7 L1067.3,880.3 L1073.5,881.0 L1079.8,881.6 L1086.0,882.3 L1092.2,883.0 L1098.5,883.7 L1104.7,884.5 L1110.9,885.3 L1117.2,886.1 L1123.4,887.0 L1129.6,887.9 L1135.8,888.8 L1142.1,889.8 L1148.3,890.8 L1154.5,891.8 L1160.8,892.8 L1167.0,893.9 L1173.2,895.0 L1179.5,896.2 L1185.7,897.4 L1191.9,898.6 L1198.2,899.8 L1204.4,901.1 L1210.6,902.4 L1216.8,903.7 L1219.7,904.4"/>
<path d="M39.3,992.9 L45.5,991.5 L51.7,990.2 L58.0,988.8 L64.2,987.4 L70.4,986.0 L76.7,984.6 L82.9,983.2 L89.1,981.8 L95.4,980.4 L101.6,978.9 L107.8,977.5 L114.0,976.1 L120.3,974.7 L126.5,973.2 L132.7,971.8 L139.0,970.3 L145.2,968.8 L151.4,967.4 L157.7,965.9 L163.9,964.4 L170.1,963.0 L176.4,961.5 L182.6,960.0 L188.8,958.5 L195.0,957.0 L201.3,955.5 L207.5,954.0 L213.7,952.5 L220.0,951.0 L226.2,949.5 L232.4,948.0 L238.7,946.4 L244.9,944.9 L251.1,943.4 L257.3,941.9 L263.6,940.3 L269.8,938.8 L276.0,937.3 L282.3,935.7 L288.5,934.2 L294.7,932.6 L301.0,931.1 L307.2,929.5 L313.4,928.0 L319.7,926.4 L325.9,924.9 L332.1,923.3 L338.3,921.8 L344.6,920.2 L350.8,918.7 L357.0,917.1 L363.3,915.6 L369.5,914.0 L375.7,912.5 L382.0,910.9 L388.2,909.4 L394.4,907.9 L400.6,906.3 L406.9,904.8 L413.1,903.2 L419.3,901.7 L425.6,900.2 L431.8,898.6 L438.0,897.1 L444.3,895.6 L450.5,894.0 L456.7,892.5 L463.0,891.0 L469.2,889.5 L475.4,888.0 L481.6,886.5 L487.9,885.0 L494.1,883.5 L500.3,882.0 L506.6,880.5 L512.8,879.1 L519.0,877.6 L525.3,876.1 L531.5,874.7 L537.7,873.2 L544.0,871.8 L550.2,870.3 L556.4,868.9 L562.6,867.5 L568.9,866.1 L575.1,864.7 L581.3,863.3 L587.6,861.9 L593.8,860.5 L600.0,859.1 L606.3,857.8 L612.5,856.4 L618.7,855.1 L624.9,853.8 L631.2,852.5 L637.4,851.2 L643.6,849.9 L649.9,848.6 L656.1,847.3 L662.3,846.0 L668.6,844.8 L674.8,843.6 L681.0,842.3 L687.3,841.1 L693.5,839.9 L699.7,838.8 L705.9,837.6 L712.2,836.4 L718.4,835.3 L724.6,834.2 L730.9,833.1 L737.1,832.0 L743.3,830.9 L749.6,829.9 L755.8,828.8 L762.0,827.8 L768.2,826.8 L774.5,825.8 L780.7,824.8 L786.9,823.8 L793.2,822.9 L799.4,822.0 L805.6,821.1 L811.9,820.2 L818.1,819.3 L824.3,818.5 L830.6,817.7 L836.8,816.9 L843.0,816.1 L849.2,815.3 L855.5,814.6 L861.7,813.8 L867.9,813.1 L874.2,812.4 L880.4,811.8 L886.6,811.1 L892.9,810.5 L899.1,809.9 L905.3,809.4 L911.5,808.8 L917.8,808.3 L924.0,807.8 L930.2,807.3 L936.5,806.9 L942.7,806.4 L948.9,806.0 L955.2,805.6 L961.4,805.3 L967.6,805.0 L973.9,804.7 L980.1,804.4 L986.3,804.1 L992.5,803.9 L998.8,803.7 L1005.0,803.5 L1011.2,803.4 L1017.5,803.3 L1023.7,803.2 L1029.9,803.1 L1036.2,803.1 L1042.4,803.1 L1048.6,803.1 L1054.9,803.1 L1061.1,803.2 L1067.3,803.3 L1073.5,803.5 L1079.8,803.6 L1086.0,803.8 L1092.2,804.1 L1098.5,804.3 L1104.7,804.6 L1110.9,804.9 L1117.2,805.3 L1123.4,805.7 L1129.6,806.1 L1135.8,806.5 L1142.1,807.0 L1148.3,807.5 L1154.5,808.0 L1160.8,808.6 L1167.0,809.2 L1173.2,809.8 L1179.5,810.5 L1185.7,811.2 L1191.9,811.9 L1198.2,812.7 L1204.4,813.5 L1210.6,814.3 L1216.8,815.2 L1223.1,816.1 L1229.3,817.1 L1235.5,818.0 L1241.8,819.0 L1248.0,820.1 L1254.2,821.1 L1260.5,822.3 L1266.7,823.4 L1272.9,824.6 L1279.1,825.8 L1285.4,827.0 L1291.6,828.3 L1297.8,829.6 L1304.1,831.0 L1310.3,832.4 L1316.5,833.8 L1322.8,835.3 L1329.0,836.8 L1335.2,838.3 L1341.5,839.9 L1347.7,841.5 L1353.9,843.1 L1360.1,844.8 L1365.6,846.3"/>
<path d="M39.3,975.1 L45.5,973.4 L51.7,971.7 L58.0,970.0 L64.2,968.3 L70.4,966.6 L76.7,964.9 L82.9,963.1 L89.1,961.4 L95.4,959.7 L101.6,957.9 L107.8,956.2 L114.0,954.4 L120.3,952.6 L126.5,950.9 L132.7,949.1 L139.0,947.3 L145.2,945.5 L151.4,943.7 L157.7,941.9 L163.9,940.1 L170.1,938.3 L176.4,936.5 L182.6,934.7 L188.8,932.8 L195.0,931.0 L201.3,929.2 L207.5,927.3 L213.7,925.5 L220.0,923.6 L226.2,921.8 L232.4,919.9 L238.7,918.0 L244.9,916.2 L251.1,914.3 L257.3,912.4 L263.6,910.5 L269.8,908.7 L276.0,906.8 L282.3,904.9 L288.5,903.0 L294.7,901.1 L301.0,899.2 L307.2,897.3 L313.4,895.4 L319.7,893.5 L325.9,891.6 L332.1,889.7 L338.3,887.8 L344.6,885.9 L350.8,884.0 L357.0,882.0 L363.3,880.1 L369.5,878.2 L375.7,876.3 L382.0,874.4 L388.2,872.5 L394.4,870.6 L400.6,868.7 L406.9,866.7 L413.1,864.8 L419.3,862.9 L425.6,861.0 L431.8,859.1 L438.0,857.2 L444.3,855.3 L450.5,853.4 L456.7,851.5 L463.0,849.6 L469.2,847.7 L475.4,845.8 L481.6,843.9 L487.9,842.0 L494.1,840.2 L500.3,838.3 L506.6,836.4 L512.8,834.5 L519.0,832.7 L525.3,830.8 L531.5,829.0 L537.7,827.1 L544.0,825.3 L550.2,823.4 L556.4,821.6 L562.6,819.8 L568.9,818.0 L575.1,816.2 L581.3,814.3 L587.6,812.6 L593.8,810.8 L600.0,809.0 L606.3,807.2 L612.5,805.4 L618.7,803.7 L624.9,801.9 L631.2,800.2 L637.4,798.5 L643.6,796.8 L649.9,795.1 L656.1,793.4 L662.3,791.7 L668.6,790.0 L674.8,788.3 L681.0,786.7 L687.3,785.0 L693.5,783.4 L699.7,781.8 L705.9,780.2 L712.2,778.6 L718.4,777.0 L724.6,775.4 L730.9,773.9 L737.1,772.3 L743.3,770.8 L749.6,769.3 L755.8,767.8 L762.0,766.3 L768.2,764.9 L774.5,763.4 L780.7,762.0 L786.9,760.5 L793.2,759.1 L799.4,757.8 L805.6,756.4 L811.9,755.0 L818.1,753.7 L824.3,752.4 L830.6,751.1 L836.8,749.8 L843.0,748.5 L849.2,747.3 L855.5,746.1 L861.7,744.8 L867.9,743.7 L874.2,742.5 L880.4,741.3 L886.6,740.2 L892.9,739.1 L899.1,738.0 L905.3,737.0 L911.5,735.9 L917.8,734.9 L924.0,733.9 L930.2,732.9 L936.5,732.0 L942.7,731.0 L948.9,730.1 L955.2,729.2 L961.4,728.4 L967.6,727.5 L973.9,726.7 L980.1,725.9 L986.3,725.2 L992.5,724.4 L998.8,723.7 L1005.0,723.0 L1011.2,722.4 L1017.5,721.7 L1023.7,721.1 L1029.9,720.5 L1036.2,720.0 L1042.4,719.4 L1048.6,718.9 L1054.9,718.5 L1061.1,718.0 L1067.3,717.6 L1073.5,717.2 L1079.8,716.8 L1086.0,716.5 L1092.2,716.2 L1098.5,715.9 L1104.7,715.7 L1110.9,715.5 L1117.2,715.3 L1123.4,715.1 L1129.6,715.0 L1135.8,714.9 L1142.1,714.8 L1148.3,714.8 L1154.5,714.8 L1160.8,714.8 L1167.0,714.9 L1173.2,715.0 L1179.5,715.1 L1185.7,715.3 L1191.9,715.5 L1198.2,715.7 L1204.4,715.9 L1210.6,716.2 L1216.8,716.6 L1223.1,716.9 L1229.3,717.3 L1235.5,717.7 L1241.8,718.2 L1248.0,718.7 L1254.2,719.2 L1260.5,719.8 L1266.7,720.4 L1272.9,721.0 L1279.1,721.7 L1285.4,722.4 L1291.6,723.1 L1297.8,723.9 L1304.1,724.7 L1310.3,725.6 L1316.5,726.5 L1322.8,727.4 L1329.0,728.4 L1335.2,729.4 L1341.5,730.4 L1347.7,731.5 L1353.9,732.6 L1360.1,733.7 L1366.4,734.9 L1372.6,736.2 L1378.8,737.4 L1385.1,738.7 L1391.3,740.1 L1397.5,741.4 L1403.8,742.9 L1410.0,744.3 L1416.2,745.8 L1422.5,747.4 L1428.7,748.9 L1434.9,750.5 L1441.1,752.2 L1447.4,753.9 L1453.6,755.6 L1459.8,757.4 L1466.1,759.2 L1472.3,761.1 L1478.5,763.0 L1484.8,764.9 L1491.0,766.9 L1497.2,768.9 L1503.4,770.9 L1509.7,773.0 L1512.8,774.1"/>
<path d="M39.3,952.0 L45.5,949.9 L51.7,947.8 L58.0,945.7 L64.2,943.7 L70.4,941.6 L76.7,939.5 L82.9,937.3 L89.1,935.2 L95.4,933.1 L101.6,931.0 L107.8,928.8 L114.0,926.7 L120.3,924.5 L126.5,922.3 L132.7,920.2 L139.0,918.0 L145.2,915.8 L151.4,913.6 L157.7,911.4 L163.9,909.2 L170.1,907.0 L176.4,904.8 L182.6,902.6 L188.8,900.4 L195.0,898.2 L201.3,895.9 L207.5,893.7 L213.7,891.5 L220.0,889.2 L226.2,887.0 L232.4,884.7 L238.7,882.5 L244.9,880.2 L251.1,877.9 L257.3,875.7 L263.6,873.4 L269.8,871.1 L276.0,868.8 L282.3,866.6 L288.5,864.3 L294.7,862.0 L301.0,859.7 L307.2,857.4 L313.4,855.1 L319.7,852.8 L325.9,850.5 L332.1,848.2 L338.3,845.9 L344.6,843.6 L350.8,841.3 L357.0,839.0 L363.3,836.7 L369.5,834.4 L375.7,832.1 L382.0,829.8 L388.2,827.5 L394.4,825.2 L400.6,822.9 L406.9,820.5 L413.1,818.2 L419.3,815.9 L425.6,813.6 L431.8,811.3 L438.0,809.0 L444.3,806.7 L450.5,804.4 L456.7,802.1 L463.0,799.8 L469.2,797.5 L475.4,795.2 L481.6,792.9 L487.9,790.6 L494.1,788.3 L500.3,786.0 L506.6,783.7 L512.8,781.4 L519.0,779.1 L525.3,776.8 L531.5,774.5 L537.7,772.2 L544.0,770.0 L550.2,767.7 L556.4,765.4 L562.6,763.1 L568.9,760.9 L575.1,758.6 L581.3,756.4 L587.6,754.1 L593.8,751.9 L600.0,749.6 L606.3,747.4 L612.5,745.1 L618.7,742.9 L624.9,740.7 L631.2,738.5 L637.4,736.2 L643.6,734.0 L649.9,731.8 L656.1,729.6 L662.3,727.4 L668.6,725.2 L674.8,723.0 L681.0,720.9 L687.3,718.7 L693.5,716.5 L699.7,714.5 L705.9,714.5 L712.2,714.5 L718.4,714.5 L724.6,714.5 L730.9,714.5 L737.1,714.5 L743.3,714.5 L749.6,714.5 L755.8,714.5 L762.0,714.5 L768.2,714.5 L774.5,714.5 L780.7,714.5 L786.9,714.5 L793.2,714.5 L799.4,714.5 L805.6,714.5 L811.9,714.5 L818.1,714.5 L824.3,714.5 L830.6,714.5 L836.8,714.5 L843.0,714.5 L849.2,714.5 L855.5,714.5 L861.7,714.5 L867.9,714.5 L874.2,714.5 L880.4,714.5 L886.6,714.5 L892.9,714.5 L899.1,714.5 L905.3,714.5 L911.5,714.5 L917.8,714.5 L924.0,714.5 L930.2,714.5 L936.5,714.5 L942.7,714.5 L948.9,714.5 L955.2,714.5 L961.4,714.5 L967.6,714.5 L973.9,714.5 L980.1,714.5 L986.3,714.5 L992.5,714.5 L998.8,714.5 L1005.0,714.5 L1011.2,714.5 L1017.5,714.5 L1023.7,714.5 L1029.9,714.5 L1036.2,714.5 L1042.4,714.5 L1048.6,714.5 L1054.9,714.5 L1061.1,714.5 L1067.3,714.5 L1073.5,714.5 L1079.8,714.5 L1086.0,714.5 L1092.2,714.5 L1098.5,714.5 L1104.7,714.5 L1110.9,714.5 L1117.2,714.5 L1123.4,714.5 L1129.6,714.5 L1135.8,714.5 L1142.1,714.5 L1148.3,714.5 L1154.5,714.5 L1160.8,714.5 L1167.0,714.5 L1173.2,714.5 L1179.5,714.5 L1185.7,714.5 L1191.9,714.5 L1198.2,714.5 L1204.4,714.5 L1210.6,714.5 L1216.8,714.5 L1223.1,714.5 L1229.3,714.5 L1235.5,714.5 L1241.8,714.5 L1248.0,714.5 L1254.2,714.5 L1260.5,714.5 L1266.7,714.5 L1272.9,714.5 L1279.1,714.5 L1285.4,714.5 L1291.6,714.5 L1297.8,714.5 L1304.1,714.5 L1310.3,714.5 L1316.5,714.5 L1322.8,714.5 L1329.0,714.5 L1335.2,714.5 L1341.5,714.5 L1347.7,714.5 L1353.9,714.5 L1360.1,714.5 L1366.4,714.5 L1372.6,714.5 L1378.8,714.5 L1385.1,714.5 L1391.3,714.5 L1397.5,714.5 L1403.8,714.5 L1410.0,714.5 L1416.2,714.5 L1422.5,714.5 L1428.7,714.5 L1434.9,714.5 L1441.1,714.5 L1447.4,714.5 L1453.6,714.5 L1459.8,714.5 L1466.1,714.5 L1472.3,714.5 L1478.5,714.5 L1484.8,714.5 L1491.0,714.5 L1497.2,714.5 L1503.4,714.5 L1509.7,714.5 L1515.9,714.5 L1522.1,714.5 L1528.4,714.5 L1534.6,714.5 L1540.8,714.5 L1547.1,714.5 L1553.3,714.5 L1559.5,714.5 L1565.8,714.5 L1572.0,714.5 L1578.2,714.5 L1584.4,714.5 L1590.7,714.5 L1596.9,714.5 L1603.1,714.5 L1609.4,714.5 L1610.6,714.5"/>
<path d="M39.3,925.5 L45.5,923.0 L51.7,920.4 L58.0,917.8 L64.2,915.3 L70.4,912.7 L76.7,910.2 L82.9,907.6 L89.1,905.0 L95.4,902.5 L101.6,899.9 L107.8,897.4 L114.0,894.8 L120.3,892.3 L126.5,889.7 L132.7,887.2 L139.0,884.6 L145.2,882.1 L151.4,879.5 L157.7,876.9 L163.9,874.4 L170.1,871.8 L176.4,869.3 L182.6,866.7 L188.8,864.1 L195.0,861.6 L201.3,859.0 L207.5,856.4 L213.7,853.8 L220.0,851.2 L226.2,848.7 L232.4,846.1 L238.7,843.5 L244.9,840.9 L251.1,838.3 L257.3,835.6 L263.6,833.0 L269.8,830.4 L276.0,827.8 L282.3,825.1 L288.5,822.5 L294.7,819.9 L301.0,817.2 L307.2,814.5 L313.4,811.9 L319.7,809.2 L325.9,806.5 L332.1,803.8 L338.3,801.1 L344.6,798.4 L350.8,795.7 L357.0,793.0 L363.3,790.3 L369.5,787.5 L375.7,784.8 L382.0,782.0 L388.2,779.2 L394.4,776.5 L400.6,773.7 L406.9,770.9 L413.1,768.1 L419.3,765.2 L425.6,762.4 L431.8,759.6 L438.0,756.7 L444.3,753.8 L450.5,751.0 L456.7,748.1 L463.0,745.2 L469.2,742.2 L475.4,739.3 L481.6,736.4 L487.9,733.4 L494.1,730.4 L500.3,727.5 L506.6,724.5 L512.8,721.5 L519.0,718.4 L525.3,715.4 L531.5,714.5 L537.7,714.5 L544.0,714.5 L550.2,714.5 L556.4,714.5 L562.6,714.5 L568.9,714.5 L575.1,714.5 L581.3,714.5 L587.6,714.5 L593.8,714.5 L600.0,714.5 L606.3,714.5 L612.5,714.5 L618.7,714.5 L624.9,714.5 L631.2,714.5 L637.4,714.5 L643.6,714.5 L649.9,714.5 L656.1,714.5 L662.3,714.5 L668.6,714.5 L674.8,714.5 L681.0,714.5 L687.3,714.5 L693.5,714.5 L699.7,714.5 L705.9,714.5 L712.2,714.5 L718.4,714.5 L724.6,714.5 L730.9,714.5 L737.1,714.5 L743.3,714.5 L749.6,714.5 L755.8,714.5 L762.0,714.5 L768.2,714.5 L774.5,714.5 L780.7,714.5 L786.9,714.5 L793.2,714.5 L799.4,714.5 L805.6,714.5 L811.9,714.5 L818.1,714.5 L824.3,714.5 L830.6,714.5 L836.8,714.5 L843.0,714.5 L849.2,714.5 L855.5,714.5 L861.7,714.5 L867.9,714.5 L874.2,714.5 L880.4,714.5 L886.6,714.5 L892.9,714.5 L899.1,714.5 L905.3,714.5 L911.5,714.5 L917.8,714.5 L924.0,714.5 L930.2,714.5 L936.5,714.5 L942.7,714.5 L948.9,714.5 L955.2,714.5 L961.4,714.5 L967.6,714.5 L973.9,714.5 L980.1,714.5 L986.3,714.5 L992.5,714.5 L998.8,714.5 L1005.0,714.5 L1011.2,714.5 L1017.5,714.5 L1023.7,714.5 L1029.9,714.5 L1036.2,714.5 L1042.4,714.5 L1048.6,714.5 L1054.9,714.5 L1061.1,714.5 L1067.3,714.5 L1073.5,714.5 L1079.8,714.5 L1086.0,714.5 L1092.2,714.5 L1098.5,714.5 L1104.7,714.5 L1110.9,714.5 L1117.2,714.5 L1123.4,714.5 L1129.6,714.5 L1135.8,714.5 L1142.1,714.5 L1148.3,714.5 L1154.5,714.5 L1160.8,714.5 L1167.0,714.5 L1173.2,714.5 L1179.5,714.5 L1185.7,714.5 L1191.9,714.5 L1198.2,714.5 L1204.4,714.5 L1210.6,714.5 L1216.8,714.5 L1223.1,714.5 L1229.3,714.5 L1235.5,714.5 L1241.8,714.5 L1248.0,714.5 L1254.2,714.5 L1260.5,714.5 L1266.7,714.5 L1272.9,714.5 L1279.1,714.5 L1285.4,714.5 L1291.6,714.5 L1297.8,714.5 L1304.1,714.5 L1310.3,714.5 L1316.5,714.5 L1322.8,714.5 L1329.0,714.5 L1335.2,714.5 L1341.5,714.5 L1347.7,714.5 L1353.9,714.5 L1360.1,714.5 L1366.4,714.5 L1372.6,714.5 L1378.8,714.5 L1385.1,714.5 L1391.3,714.5 L1397.5,714.5 L1403.8,714.5 L1410.0,714.5 L1416.2,714.5 L1422.5,714.5 L1428.7,714.5 L1434.9,714.5 L1441.1,714.5 L1447.4,714.5 L1453.6,714.5 L1459.8,714.5 L1466.1,714.5 L1472.3,714.5 L1478.5,714.5 L1484.8,714.5 L1491.0,714.5 L1497.2,714.5 L1503.4,714.5 L1509.7,714.5 L1515.9,714.5 L1522.1,714.5 L1528.4,714.5 L1534.6,714.5 L1540.8,714.5 L1547.1,714.5 L1553.3,714.5 L1559.5,714.5 L1565.8,714.5 L1572.0,714.5 L1578.2,714.5 L1584.4,714.5 L1590.7,714.5 L1596.9,714.5 L1603.1,714.5 L1609.4,714.5 L1610.6,714.5"/>
<path d="M39.3,905.1 L45.5,902.4 L51.7,899.7 L58.0,897.0 L64.2,894.2 L70.4,891.5 L76.7,888.8 L82.9,886.1 L89.1,883.3 L95.4,880.6 L101.6,877.9 L107.8,875.1 L114.0,872.4 L120.3,869.6 L126.5,866.9 L132.7,864.1 L139.0,861.4 L145.2,858.6 L151.4,855.8 L157.7,853.1 L163.9,850.3 L170.1,847.5 L176.4,844.8 L182.6,842.0 L188.8,839.2 L195.0,836.4 L201.3,833.6 L207.5,830.8 L213.7,828.0 L220.0,825.2 L226.2,822.5 L232.4,819.6 L238.7,816.8 L244.9,814.0 L251.1,811.2 L257.3,808.4 L263.6,805.6 L269.8,802.8 L276.0,800.0 L282.3,797.1 L288.5,794.3 L294.7,791.5 L301.0,788.6 L307.2,785.8 L313.4,783.0 L319.7,780.1 L325.9,777.3 L332.1,774.4 L338.3,771.6 L344.6,768.7 L350.8,765.9 L357.0,763.0 L363.3,760.1 L369.5,757.3 L375.7,754.4 L382.0,751.5 L388.2,748.6 L394.4,745.8 L400.6,742.9 L406.9,740.0 L413.1,737.1 L419.3,734.2 L425.6,731.3 L431.8,728.4 L438.0,725.5 L444.3,722.6 L450.5,719.7 L456.7,716.8 L460.5,715.0 L463.0,714.5 L469.2,714.5 L475.4,714.5 L481.6,714.5 L487.9,714.5 L494.1,714.5 L500.3,714.5 L506.6,714.5 L512.8,714.5 L519.0,714.5 L525.3,714.5 L531.5,714.5 L537.7,714.5 L544.0,714.5 L550.2,714.5 L556.4,714.5 L562.6,714.5 L568.9,714.5 L575.1,714.5 L581.3,714.5 L587.6,714.5 L593.8,714.5 L600.0,714.5 L606.3,714.5 L612.5,714.5 L618.7,714.5 L624.9,714.5 L631.2,714.5 L637.4,714.5 L643.6,714.5 L649.9,714.5 L656.1,714.5 L662.3,714.5 L668.6,714.5 L674.8,714.5 L681.0,714.5 L687.3,714.5 L693.5,714.5 L699.7,714.5 L705.9,714.5 L712.2,714.5 L718.4,714.5 L724.6,714.5 L730.9,714.5 L737.1,714.5 L743.3,714.5 L749.6,714.5 L755.8,714.5 L762.0,714.5 L768.2,714.5 L774.5,714.5 L780.7,714.5 L786.9,714.5 L793.2,714.5 L799.4,714.5 L805.6,714.5 L811.9,714.5 L818.1,714.5 L824.3,714.5 L830.6,714.5 L836.8,714.5 L843.0,714.5 L849.2,714.5 L855.5,714.5 L861.7,714.5 L867.9,714.5 L874.2,714.5 L880.4,714.5 L886.6,714.5 L892.9,714.5 L899.1,714.5 L905.3,714.5 L911.5,714.5 L917.8,714.5 L924.0,714.5 L930.2,714.5 L936.5,714.5 L942.7,714.5 L948.9,714.5 L955.2,714.5 L961.4,714.5 L967.6,714.5 L973.9,714.5 L980.1,714.5 L986.3,714.5 L992.5,714.5 L998.8,714.5 L1005.0,714.5 L1011.2,714.5 L1017.5,714.5 L1023.7,714.5 L1029.9,714.5 L1036.2,714.5 L1042.4,714.5 L1048.6,714.5 L1054.9,714.5 L1061.1,714.5 L1067.3,714.5 L1073.5,714.5 L1079.8,714.5 L1086.0,714.5 L1092.2,714.5 L1098.5,714.5 L1104.7,714.5 L1110.9,714.5 L1117.2,714.5 L1123.4,714.5 L1129.6,714.5 L1135.8,714.5 L1142.1,714.5 L1148.3,714.5 L1154.5,714.5 L1160.8,714.5 L1167.0,714.5 L1173.2,714.5 L1179.5,714.5 L1185.7,714.5 L1191.9,714.5 L1198.2,714.5 L1204.4,714.5 L1210.6,714.5 L1216.8,714.5 L1223.1,714.5 L1229.3,714.5 L1235.5,714.5 L1241.8,714.5 L1248.0,714.5 L1254.2,714.5 L1260.5,714.5 L1266.7,714.5 L1272.9,714.5 L1279.1,714.5 L1285.4,714.5 L1291.6,714.5 L1297.8,714.5 L1304.1,714.5 L1310.3,714.5 L1316.5,714.5 L1322.8,714.5 L1329.0,714.5 L1335.2,714.5 L1341.5,714.5 L1347.7,714.5 L1353.9,714.5 L1360.1,714.5 L1366.4,714.5 L1372.6,714.5 L1378.8,714.5 L1385.1,714.5 L1391.3,714.5 L1397.5,714.5 L1403.8,714.5 L1410.0,714.5 L1416.2,714.5 L1422.5,714.5 L1428.7,714.5 L1432.4,714.5 L1434.9,714.5 L1441.1,714.5 L1447.4,714.5 L1453.6,714.5 L1459.8,714.5 L1466.1,714.5 L1472.3,714.5 L1478.5,714.5 L1484.8,714.5 L1491.0,714.5 L1497.2,714.5 L1503.4,714.5 L1509.7,714.5 L1515.9,714.5 L1522.1,714.5 L1528.4,714.5 L1534.6,714.5 L1540.8,714.5 L1547.1,714.5 L1553.3,714.5 L1559.5,714.5 L1565.8,714.5 L1572.0,714.5 L1578.2,714.5 L1584.4,714.5 L1590.7,714.5 L1596.9,714.5 L1603.1,714.5 L1609.4,714.5 L1610.6,714.5"/>
<path d="M39.3,905.1 L45.5,902.4 L51.7,899.7 L58.0,897.0 L64.2,894.2 L70.4,891.5 L76.7,888.8 L82.9,886.1 L89.1,883.3 L95.4,880.6 L101.6,877.9 L107.8,875.1 L114.0,872.4 L120.3,869.6 L126.5,866.9 L132.7,864.1 L139.0,861.4 L145.2,858.6 L151.4,855.8 L157.7,853.1 L163.9,850.3 L170.1,847.5 L176.4,844.8 L182.6,842.0 L188.8,839.2 L195.0,836.4 L201.3,833.6 L207.5,830.8 L213.7,828.0 L220.0,825.2 L226.2,822.5 L232.4,819.6 L238.7,816.8 L244.9,814.0 L251.1,811.2 L257.3,808.4 L263.6,805.6 L269.8,802.8 L276.0,800.0 L282.3,797.1 L288.5,794.3 L294.7,791.5 L301.0,788.6 L307.2,785.8 L313.4,783.0 L319.7,780.1 L325.9,777.3 L332.1,774.4 L338.3,771.6 L344.6,768.7 L350.8,765.9 L357.0,763.0 L363.3,760.1 L369.5,757.3 L375.7,754.4 L382.0,751.5 L388.2,748.6 L394.4,745.8 L400.6,742.9 L406.9,740.0 L413.1,737.1 L419.3,734.2 L425.6,731.3 L431.8,728.4 L438.0,725.5 L444.3,722.6 L450.5,719.7 L456.7,716.8 L460.5,715.0 L463.0,714.5 L469.2,714.5 L475.4,714.5 L481.6,714.5 L487.9,714.5 L494.1,714.5 L500.3,714.5 L506.6,714.5 L512.8,714.5 L519.0,714.5 L525.3,714.5 L531.5,714.5 L537.7,714.5 L544.0,714.5 L550.2,714.5 L556.4,714.5 L562.6,714.5 L568.9,714.5 L575.1,714.5 L581.3,714.5 L587.6,714.5 L593.8,714.5 L600.0,714.5 L606.3,714.5 L612.5,714.5 L618.7,714.5 L624.9,714.5 L631.2,714.5 L637.4,714.5 L643.6,714.5 L649.9,714.5 L656.1,714.5 L662.3,714.5 L668.6,714.5 L674.8,714.5 L681.0,714.5 L687.3,714.5 L693.5,714.5 L699.7,714.5 L705.9,714.5 L712.2,714.5 L718.4,714.5 L724.6,714.5 L730.9,714.5 L737.1,714.5 L743.3,714.5 L749.6,714.5 L755.8,714.5 L762.0,714.5 L768.2,714.5 L774.5,714.5 L780.7,714.5 L786.9,714.5 L793.2,714.5 L799.4,714.5 L805.6,714.5 L811.9,714.5 L818.1,714.5 L824.3,714.5 L830.6,714.5 L836.8,714.5 L843.0,714.5 L849.2,714.5 L855.5,714.5 L861.7,714.5 L867.9,714.5 L874.2,714.5 L880.4,714.5 L886.6,714.5 L892.9,714.5 L899.1,714.5 L905.3,714.5 L911.5,714.5 L917.8,714.5 L924.0,714.5 L930.2,714.5 L936.5,714.5 L942.7,714.5 L948.9,714.5 L955.2,714.5 L961.4,714.5 L967.6,714.5 L973.9,714.5 L980.1,714.5 L986.3,714.5 L992.5,714.5 L998.8,714.5 L1005.0,714.5 L1011.2,714.5 L1017.5,714.5 L1023.7,714.5 L1029.9,714.5 L1036.2,714.5 L1042.4,714.5 L1048.6,714.5 L1054.9,714.5 L1061.1,714.5 L1067.3,714.5 L1073.5,714.5 L1079.8,714.5 L1086.0,714.5 L1092.2,714.5 L1098.5,714.5 L1104.7,714.5 L1110.9,714.5 L1117.2,714.5 L1123.4,714.5 L1129.6,714.5 L1135.8,714.5 L1142.1,714.5 L1148.3,714.5 L1154.5,714.5 L1160.8,714.5 L1167.0,714.5 L1173.2,714.5 L1179.5,714.5 L1185.7,714.5 L1191.9,714.5 L1198.2,714.5 L1204.4,714.5 L1210.6,714.5 L1216.8,714.5 L1223.1,714.5 L1229.3,714.5 L1235.5,714.5 L1241.8,714.5 L1248.0,714.5 L1254.2,714.5 L1260.5,714.5 L1266.7,714.5 L1272.9,714.5 L1279.1,714.5 L1285.4,714.5 L1291.6,714.5 L1297.8,714.5 L1304.1,714.5 L1310.3,714.5 L1316.5,714.5 L1322.8,714.5 L1329.0,714.5 L1335.2,714.5 L1341.5,714.5 L1347.7,714.5 L1353.9,714.5 L1360.1,714.5 L1366.4,714.5 L1372.6,714.5 L1378.8,714.5 L1385.1,714.5 L1391.3,714.5 L1397.5,714.5 L1403.8,714.5 L1410.0,714.5 L1416.2,714.5 L1422.5,714.5 L1428.7,714.5 L1432.4,714.5" stroke-width="3.6"/>
</g>
<line x1="1743.6" y1="646.6" x2="1743.6" y2="1057" stroke="#555" stroke-width="1"/>
<line x1="39" y1="1056.3" x2="1744" y2="1056.3" stroke="#555" stroke-width="1"/>
<g stroke="#000" stroke-width="1.6" fill="none">
<line x1="39.2" y1="646.0" x2="39.2" y2="1056.9"/>
<line x1="38.4" y1="646.6" x2="1744.1" y2="646.6" stroke-width="1.2"/>
</g>
<g stroke="#000" stroke-width="1.35" fill="none">
<line x1="32" y1="1056.50" x2="39" y2="1056.50"/>
<line x1="32" y1="1016.50" x2="39" y2="1016.50"/>
<line x1="32" y1="976.50" x2="39" y2="976.50"/>
<line x1="32" y1="936.50" x2="39" y2="936.50"/>
<line x1="32" y1="896.50" x2="39" y2="896.50"/>
<line x1="32" y1="856.50" x2="39" y2="856.50"/>
<line x1="32" y1="816.50" x2="39" y2="816.50"/>
<line x1="32" y1="776.50" x2="39" y2="776.50"/>
<line x1="32" y1="736.50" x2="39" y2="736.50"/>
<line x1="32" y1="696.50" x2="39" y2="696.50"/>
<line x1="32" y1="656.50" x2="39" y2="656.50"/>
</g>
<text transform="translate(25.8,1060.7) scale(1.00,1)" text-anchor="end">0</text>
<text transform="translate(25.8,1020.7) scale(0.94,1)" text-anchor="end">20</text>
<text transform="translate(25.8,980.7) scale(0.94,1)" text-anchor="end">40</text>
<text transform="translate(25.8,940.7) scale(0.94,1)" text-anchor="end">60</text>
<text transform="translate(25.8,900.7) scale(0.94,1)" text-anchor="end">80</text>
<text transform="translate(25.8,860.7) scale(0.94,1)" text-anchor="end">100</text>
<text transform="translate(25.8,820.7) scale(0.94,1)" text-anchor="end">120</text>
<text transform="translate(25.8,780.7) scale(0.94,1)" text-anchor="end">140</text>
<text transform="translate(25.8,740.7) scale(0.94,1)" text-anchor="end">160</text>
<text x="16.2" y="661.3" text-anchor="middle">P1</text>
<text x="16.2" y="681.3" text-anchor="middle">[W]</text>
</svg></body></html>
